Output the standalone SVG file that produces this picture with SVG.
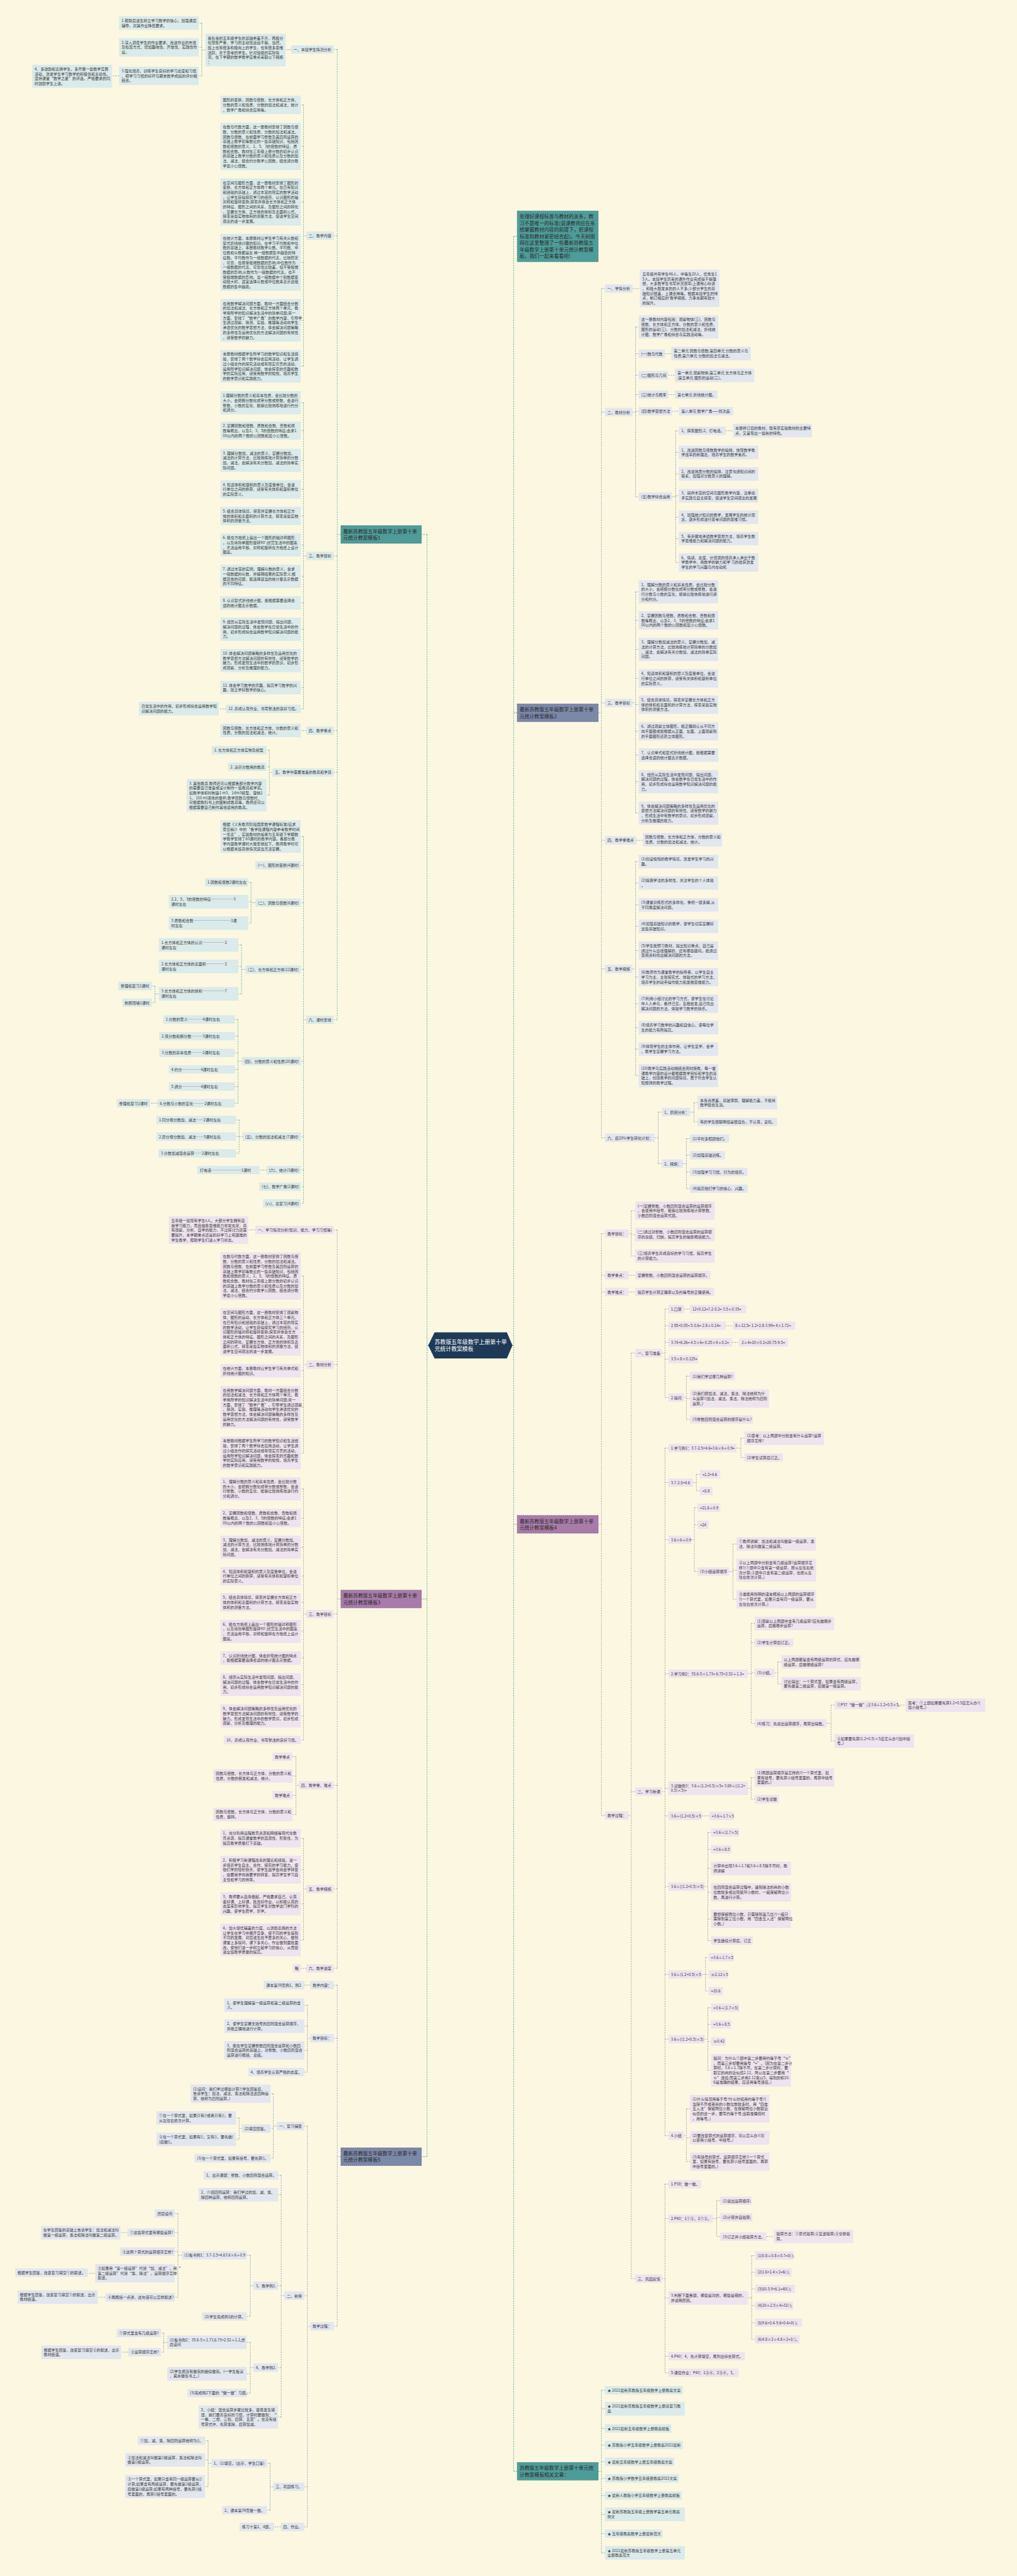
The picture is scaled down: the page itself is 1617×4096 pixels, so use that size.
<svg xmlns="http://www.w3.org/2000/svg" width="1617" height="4096" viewBox="0 0 1617 4096">
<style>
.t{font-family:"Noto Sans CJK SC","Liberation Sans",sans-serif;font-size:9.5px;fill:#3a3a3a}
.tm{font-family:"Noto Sans CJK SC","Liberation Sans",sans-serif;font-size:12.4px;fill:#2a2a2a}
.tc{font-family:"Noto Sans CJK SC","Liberation Sans",sans-serif;font-size:14px;fill:#ffffff}
.lt{fill:#dbeaea}
.ls{fill:#e2e6ef}
.lp{fill:#eee3ef}
.mt{fill:#4e9c99;stroke:#2f7370;stroke-width:1;stroke-dasharray:3 2}
.ms{fill:#7c88a8;stroke:#4b5679;stroke-width:1;stroke-dasharray:3 2}
.mp{fill:#a87ba9;stroke:#7b4f7d;stroke-width:1;stroke-dasharray:3 2}
.c{fill:none;stroke-width:1.2;stroke-dasharray:3.5 2.5}
.ct{stroke:#5fa5a0}.cs{stroke:#8b94ad}.cp{stroke:#a48ea7}.cr{stroke:#3f9a8a}
</style>
<rect width="1617" height="4096" fill="#fbf7e1"/>
<g transform="scale(0.6316)">
<g id="connectors">
<path class="c cr" d="M1078,3387H1075M1075,1345.5V5429.5M1075,1345.5H1061M1075,4025.5H1061M1075,5429.5H1061"/>
<path class="c cr" d="M1290,3387H1293M1293,595V6221.5M1293,595H1302M1293,1794.5H1302M1293,3837.5H1302M1293,6221.5H1302"/>
<path class="c ct" d="M858,1345.5H849M849,124.5V2567.5M849,124.5H840M849,593.5H840M849,1399.5H840M849,1839.5H840M849,1944.5H840M849,2567.5H840"/>
<path class="c ct" d="M733,125H719M517,126H508M508,58V191M508,58H500M508,119H500M508,191H500M300,191H282"/>
<path class="c ct" d="M771,593.5H764M764,264V922M764,264H757M764,368.5H757M764,508.5H757M764,660.5H757M764,806.5H757M764,922H757"/>
<path class="c ct" d="M771,1399.5H764M764,1014V1784.5M764,1014H757M764,1084H757M764,1159H757M764,1232H757M764,1299H757M764,1372H757M764,1451H757M764,1518H757M764,1584H757M764,1663H757M764,1731H757M764,1784.5H757M569,1784.5H551"/>
<path class="c ct" d="M771,1839.5H757M686,1944.5H678M678,1888.5V2002M678,1888.5H671M678,1930.5H671M678,2002H671"/>
<path class="c ct" d="M771,2567.5H764M764,2106V3029.5M764,2106H757M764,2178.5H757M764,2272.5H757M764,2440.5H757M764,2671.5H757M764,2861.5H757M764,2945.5H757M764,2987.5H757M764,3029.5H757"/>
<path class="c ct" d="M643,2272.5H632M632,2221.5V2324M632,2221.5H625M632,2270H625M632,2324H625M618,2440.5H608M608,2379V2502M608,2379H600M608,2433H600M608,2502H600M400,2502H390M390,2482.5V2524.5M390,2482.5H382M390,2524.5H382"/>
<path class="c ct" d="M609,2671.5H599M599,2566.5V2777.5M599,2566.5H591M599,2608.5H591M599,2650.5H591M599,2692.5H591M599,2735.5H591M599,2777.5H591M396,2777.5H378M611,2861.5H602M602,2819.5V2903.5M602,2819.5H594M602,2861.5H594M602,2903.5H594M671,2945.5H653"/>
<path class="c cp" d="M858,4025.5H849M849,3096.5V4955.5M849,3096.5H840M849,3435.5H840M849,4063.5H840M849,4494.5H840M849,4755.5H840M849,4955.5H840M643,3096.5H625"/>
<path class="c cp" d="M771,3435.5H764M764,3212.5V3658M764,3212.5H757M764,3353.5H757M764,3451H757M764,3542.5H757M764,3658H757"/>
<path class="c cp" d="M771,4063.5H764M764,3748V4380.5M764,3748H757M764,3822H757M764,3895H757M764,3968H757M764,4034H757M764,4107H757M764,4174H757M764,4241H757M764,4320H757M764,4380.5H757"/>
<path class="c cp" d="M752,4494.5H745M745,4422.5V4568M745,4422.5H736M745,4471H736M745,4519.5H736M745,4568H736M771,4755.5H764M764,4628V4884M764,4628H757M764,4707H757M764,4793H757M764,4884H757M771,4955.5H757"/>
<path class="c cs" d="M858,5429.5H849M849,4997.5V5856.5M849,4997.5H840M849,5131.5H840M849,5856.5H840M781,4997.5H766M781,5131.5H774M774,5048V5216.5M774,5048H766M774,5101H766M774,5162H766M774,5216.5H766"/>
<path class="c cs" d="M781,5856.5H774M774,5352.5V6361.5M774,5352.5H766M774,5779.5H766M774,6260.5H766M774,6361.5H766M697,5352.5H688M688,5271V5433.5M688,5271H681M688,5358.5H681M688,5433.5H681M609,5358.5H602M602,5332V5386M602,5332H594M602,5386H594"/>
<path class="c cs" d="M716,5779.5H708M708,5476.5V6085M708,5476.5H700M708,5525H700M708,5754.5H700M708,5960.5H700M708,6085H700M638,5754.5H630M630,5677.5V5831.5M630,5677.5H621M630,5831.5H621"/>
<path class="c cs" d="M458,5677.5H448M448,5572.5V5783.5M448,5572.5H440M448,5620.5H440M448,5668.5H440M448,5723H440M448,5783.5H440M321,5620.5H303M240,5723H221M265,5783.5H246"/>
<path class="c cs" d="M638,5960.5H630M630,5897V6024.5M630,5897H621M630,5976H621M630,6024.5H621M421,5897H412M412,5873.5V5921.5M412,5873.5H405M412,5921.5H405M323,5921.5H305"/>
<path class="c cs" d="M688,6260.5H680M680,6201.5V6319.5M680,6201.5H672M680,6319.5H672M532,6201.5H524M524,6144.5V6260M524,6144.5H516M524,6193H516M524,6260H516M707,6361.5H690"/>
<path class="c cs" d="M1506,1794.5H1514M1514,726.5V2864.5M1514,726.5H1523M1514,1037.5H1523M1514,1769.5H1523M1514,2115.5H1523M1514,2439.5H1523M1514,2864.5H1523M1592,726.5H1611"/>
<path class="c cs" d="M1592,1037.5H1600M1600,823V1250.5M1600,823H1608M1600,890.5H1608M1600,944.5H1608M1600,993.5H1608M1600,1035.5H1608M1600,1250.5H1608M1674,890.5H1690M1682,944.5H1699M1682,993.5H1699M1691,1035.5H1709"/>
<path class="c cs" d="M1691,1250.5H1701M1701,1084.5V1416M1701,1084.5H1709M1701,1139H1709M1701,1193H1709M1701,1248H1709M1701,1302H1709M1701,1356H1709M1701,1416H1709M1827,1084.5H1845"/>
<path class="c cs" d="M1592,1769.5H1600M1600,1490V2047M1600,1490H1608M1600,1562H1608M1600,1635H1608M1600,1708H1608M1600,1774H1608M1600,1841H1608M1600,1901H1608M1600,1968H1608M1600,2047H1608M1602,2115.5H1618"/>
<path class="c cs" d="M1592,2439.5H1600M1600,2169V2708M1600,2169H1608M1600,2223H1608M1600,2278H1608M1600,2332H1608M1600,2393H1608M1600,2460H1608M1600,2527H1608M1600,2587H1608M1600,2641H1608M1600,2708H1608"/>
<path class="c cs" d="M1648,2864.5H1657M1657,2799.5V2929.5M1657,2799.5H1666M1657,2929.5H1666M1737,2799.5H1747M1747,2776V2824.5M1747,2776H1756M1747,2824.5H1756M1719,2929.5H1728M1728,2866.5V2992.5M1728,2866.5H1737M1728,2908.5H1737M1728,2950.5H1737M1728,2992.5H1737"/>
<path class="c cp" d="M1506,3837.5H1514M1514,3105.5V4570.5M1514,3105.5H1523M1514,3210.5H1523M1514,3252.5H1523M1514,4570.5H1523M1582,3105.5H1589M1589,3048V3162M1589,3048H1599M1589,3108H1599M1589,3162H1599M1582,3210.5H1599M1582,3252.5H1599"/>
<path class="c cp" d="M1582,4570.5H1589M1589,3406.5V5736.5M1589,3406.5H1599M1589,4510.5H1599M1589,5736.5H1599"/>
<path class="c cp" d="M1666,3406.5H1674M1674,3295.5V3518.5M1674,3295.5H1683M1674,3337.5H1683M1674,3379.5H1683M1674,3421.5H1683M1674,3518.5H1683M1722,3295.5H1737M1827,3337.5H1845M1843,3379.5H1861M1722,3518.5H1728M1728,3464.5V3573.5M1728,3464.5H1737M1728,3521H1737M1728,3573.5H1737"/>
<path class="c cp" d="M1666,4510.5H1674M1674,3645.5V5376.5M1674,3645.5H1683M1674,3732.5H1683M1674,3876.5H1683M1674,4213.5H1683M1674,4502H1683M1674,4571.5H1683M1674,4749.5H1683M1674,4970.5H1683M1674,5133.5H1683M1674,5376.5H1683"/>
<path class="c cp" d="M1854,3645.5H1865M1865,3621V3669.5M1865,3621H1874M1865,3669.5H1874M1744,3732.5H1753M1753,3711.5V3753.5M1753,3711.5H1762M1753,3753.5H1762M1740,3876.5H1748M1748,3795.5V3956.5M1748,3795.5H1756M1748,3838.5H1756M1748,3956.5H1756M1835,3956.5H1845M1845,3887V4026M1845,3887H1854M1845,3953H1854M1845,4026H1854"/>
<path class="c cp" d="M1882,4213.5H1891M1891,4087V4338.5M1891,4087H1900M1891,4135.5H1900M1891,4211.5H1900M1891,4338.5H1900M1950,4211.5H1958M1958,4184V4239M1958,4184H1967M1958,4239H1967M2080,4338.5H2092M2092,4292.5V4383M2092,4292.5H2101M2092,4383H2101"/>
<path class="c cp" d="M2261,4292.5H2280"/>
<path class="c cp" d="M1883,4502H1891M1891,4475V4529.5M1891,4475H1900M1891,4529.5H1900M1767,4571.5H1786M1774,4749.5H1782M1782,4613.5V4885.5M1782,4613.5H1790M1782,4655.5H1790M1782,4704H1790M1782,4764H1790M1782,4831H1790M1782,4885.5H1790"/>
<path class="c cp" d="M1767,4970.5H1776M1776,4927.5V5012.5M1776,4927.5H1784M1776,4970.5H1784M1776,5012.5H1784M1774,5133.5H1782M1782,5054.5V5212M1782,5054.5H1790M1782,5096.5H1790M1782,5139.5H1790M1782,5212H1790M1722,5376.5H1728M1728,5309V5442M1728,5309H1737M1728,5382H1737M1728,5442H1737"/>
<path class="c cp" d="M1666,5736.5H1674M1674,5498.5V5973.5M1674,5498.5H1683M1674,5585.5H1683M1674,5785H1683M1674,5931.5H1683M1674,5973.5H1683M1794,5585.5H1804M1804,5540.5V5630.5M1804,5540.5H1813M1804,5582.5H1813M1804,5630.5H1813M1930,5630.5H1948"/>
<path class="c cp" d="M1883,5785H1892M1892,5678.5V5889.5M1892,5678.5H1901M1892,5720.5H1901M1892,5762.5H1901M1892,5804.5H1901M1892,5847.5H1901M1892,5889.5H1901"/>
<path class="c ct" d="M1506,6221.5H1514M1514,6017.5V6427M1514,6017.5H1523M1514,6064H1523M1514,6113.5H1523M1514,6155.5H1523M1514,6197.5H1523M1514,6239.5H1523M1514,6282.5H1523M1514,6330H1523M1514,6378.5H1523M1514,6427H1523"/>
</g>
<g id="center"><path d="M1094,3354H1276L1290,3387L1276,3420H1094L1078,3387Z" fill="#1e3a56"/><text class="tc" x="1094" y="3383"><tspan x="1094">苏教版五年级数学上册第十单</tspan><tspan x="1094" dy="18">元统计教案模板</tspan></text></g>

<g id="L1"><rect class="mt" x="858" y="1323" width="203" height="45"/><text class="tm" x="864" y="1342"><tspan x="864">最新苏教版五年级数学上册第十单</tspan><tspan x="864" dy="16.5">元统计教案模板1</tspan></text></g>
<g id="A1"><rect class="lt" x="733" y="114" width="107" height="21"/><text class="t" x="739" y="128.2">一、本班学生情况分析</text></g>
<g id="A1a"><rect class="lt" x="517" y="85" width="202" height="82"/><text class="t" x="523" y="99.2"><tspan x="523">我负责的五年级学生的基础参差不齐，两极分</tspan><tspan x="523" dy="12.2">化现象严重，学习的主动性远远不够。当然，</tspan><tspan x="523" dy="12.2">班上也有很多积极向上的学生，也有很多思维</tspan><tspan x="523" dy="12.2">活跃、善于思考的学生。针对班级的实际情</tspan><tspan x="523" dy="12.2">况，在下学期的数学教学应重点采取以下措施</tspan><tspan x="523" dy="12.2">：</tspan></text></g>
<g id="A1a1"><rect class="lt" x="300" y="41" width="200" height="34"/><text class="t" x="306" y="55.2"><tspan x="306">1.帮助后进生树立学习数学的信心，加强课后</tspan><tspan x="306" dy="12.2">辅导，对其作业降低要求。</tspan></text></g>
<g id="A1a2"><rect class="lt" x="300" y="96" width="200" height="46"/><text class="t" x="306" y="110.2"><tspan x="306">2.深入调查学生的作业要求，改进作业的布置</tspan><tspan x="306" dy="12.2">及检查方式，增加趣味性、开放性、实践性作</tspan><tspan x="306" dy="12.2">业。</tspan></text></g>
<g id="A1a3"><rect class="lt" x="300" y="168" width="200" height="46"/><text class="t" x="306" y="182.2"><tspan x="306">3.强化培养、训练学生良好的学习态度和习惯</tspan><tspan x="306" dy="12.2">，把学习习惯的好坏与期末数学成绩的评价相</tspan><tspan x="306" dy="12.2">结合。</tspan></text></g>
<g id="A1a3a"><rect class="lt" x="81" y="163" width="201" height="58"/><text class="t" x="87" y="177.2"><tspan x="87">4、多鼓励和表扬学生，多开展一些数学竞赛</tspan><tspan x="87" dy="12.2">活动，激发学生学习数学的积极性和主动性。</tspan><tspan x="87" dy="12.2">坚持课堂“数学之星”的评选，严格要求的同</tspan><tspan x="87" dy="12.2">时鼓励学生上进。</tspan></text></g>
<g id="A2"><rect class="lt" x="771" y="583" width="69" height="21"/><text class="t" x="777" y="597.2">二、教学内容</text></g>
<g id="A2a"><rect class="lt" x="555" y="241" width="202" height="46"/><text class="t" x="561" y="255.2"><tspan x="561">图形的变换，因数与倍数，长方体和正方体，</tspan><tspan x="561" dy="12.2">分数的意义和性质，分数的加法和减法，统计</tspan><tspan x="561" dy="12.2">，数学广角和综合应用等。</tspan></text></g>
<g id="A2b"><rect class="lt" x="555" y="309" width="202" height="119"/><text class="t" x="561" y="323.2"><tspan x="561">在数与代数方面，这一册教材安排了因数与倍</tspan><tspan x="561" dy="12.2">数、分数的意义和性质，分数的加法和减法。</tspan><tspan x="561" dy="12.2">因数与倍数，在前面学习整数及其四则运算的</tspan><tspan x="561" dy="12.2">基础上教学初等数论的一些基础知识，包括因</tspan><tspan x="561" dy="12.2">数和倍数的意义，2、5、3的倍数的特征，质</tspan><tspan x="561" dy="12.2">数和合数。教材在三年级上册分数的初步认识</tspan><tspan x="561" dy="12.2">的基础上教学分数的意义和性质以及分数的加</tspan><tspan x="561" dy="12.2">法、减法，结合约分教学公因数，结合通分教</tspan><tspan x="561" dy="12.2">学最小公倍数。</tspan></text></g>
<g id="A2c"><rect class="lt" x="555" y="449" width="202" height="119"/><text class="t" x="561" y="463.2"><tspan x="561">在空间与图形方面，这一册教材安排了图形的</tspan><tspan x="561" dy="12.2">变换、长方体和正方体两个单元。在已有知识</tspan><tspan x="561" dy="12.2">和经验的基础上，通过丰富的现实的数学活动</tspan><tspan x="561" dy="12.2">，让学生获得探究学习的经历，认识图形的轴</tspan><tspan x="561" dy="12.2">对称和旋转变换;探索并体会长方体和正方体</tspan><tspan x="561" dy="12.2">的特征、图形之间的关系，及图形之间的转化</tspan><tspan x="561" dy="12.2">，掌握长方体、正方体的体积及表面积公式，</tspan><tspan x="561" dy="12.2">探索某些实物体积的测量方法，促进学生空间</tspan><tspan x="561" dy="12.2">观念的进一步发展。</tspan></text></g>
<g id="A2d"><rect class="lt" x="555" y="589" width="202" height="143"/><text class="t" x="561" y="603.2"><tspan x="561">在统计方面，本册教材让学生学习有关众数和</tspan><tspan x="561" dy="12.2">复式折线统计图的知识。在学习平均数和中位</tspan><tspan x="561" dy="12.2">数的基础上，本册教材教学众数。平均数、中</tspan><tspan x="561" dy="12.2">位数和众数都是反 映一组数据集中趋势的特</tspan><tspan x="561" dy="12.2">征数。平均数作为一组数据的代表，比较稳定</tspan><tspan x="561" dy="12.2">，可靠，但易受极端数据的影响;中位数作为</tspan><tspan x="561" dy="12.2">一组数据的代表，可靠性比较差，但不受极端</tspan><tspan x="561" dy="12.2">数据的影响;众数作为一组数据的代表，也不</tspan><tspan x="561" dy="12.2">受极端数据的影响。当一组数据中个别数据变</tspan><tspan x="561" dy="12.2">动较大时，适宜选择众数或中位数来表示这组</tspan><tspan x="561" dy="12.2">数据的集中趋势。</tspan></text></g>
<g id="A2e"><rect class="lt" x="555" y="753" width="202" height="107"/><text class="t" x="561" y="767.2"><tspan x="561">在用数学解决问题方面，教材一方面结合分数</tspan><tspan x="561" dy="12.2">的加法和减法、长方体和正方体两个单元，教</tspan><tspan x="561" dy="12.2">学用所学的知识解决生活中的简单问题;另一</tspan><tspan x="561" dy="12.2">方面，安排了“数学广角”的教学内容，引导学</tspan><tspan x="561" dy="12.2">生通过观察、猜测、实验、推理等活动向学生</tspan><tspan x="561" dy="12.2">渗透优化的数学思想方法，体会解决问题策略</tspan><tspan x="561" dy="12.2">的多样性及运用优化的方法解决问题的有效性</tspan><tspan x="561" dy="12.2">，感受数学的魅力。</tspan></text></g>
<g id="A2f"><rect class="lt" x="555" y="881" width="202" height="82"/><text class="t" x="561" y="895.2"><tspan x="561">本册教材根据学生所学习的数学知识和生活经</tspan><tspan x="561" dy="12.2">验，安排了两个数学综合应用活动，让学生通</tspan><tspan x="561" dy="12.2">过小组合作的探究活动或有现实背景的活动，</tspan><tspan x="561" dy="12.2">运用所学知识解决问题，体会探索的乐趣和数</tspan><tspan x="561" dy="12.2">学的实际应用，感受用数学的愉悦，培养学生</tspan><tspan x="561" dy="12.2">的数学意识和实践能力。</tspan></text></g>
<g id="A3"><rect class="lt" x="771" y="1389" width="69" height="21"/><text class="t" x="777" y="1403.2">三、教学目标</text></g>
<g id="A3a"><rect class="lt" x="555" y="985" width="202" height="58"/><text class="t" x="561" y="999.2"><tspan x="561">1.理解分数的意义和基本性质，会比较分数的</tspan><tspan x="561" dy="12.2">大小，会把假分数化成带分数或整数，会进行</tspan><tspan x="561" dy="12.2">整数、小数的互化，能够比较熟练地进行约分</tspan><tspan x="561" dy="12.2">和通分。</tspan></text></g>
<g id="A3b"><rect class="lt" x="555" y="1061" width="202" height="46"/><text class="t" x="561" y="1075.2"><tspan x="561">2. 掌握因数和倍数、质数和合数、奇数和偶</tspan><tspan x="561" dy="12.2">数等概念，以及2、3、5的倍数的特征;会求1</tspan><tspan x="561" dy="12.2">00以内的两个数的公因数和最小公倍数。</tspan></text></g>
<g id="A3c"><rect class="lt" x="555" y="1130" width="202" height="58"/><text class="t" x="561" y="1144.2"><tspan x="561">3. 理解分数加、减法的意义，掌握分数加、</tspan><tspan x="561" dy="12.2">减法的计算方法，比较熟练地计算简单的分数</tspan><tspan x="561" dy="12.2">加、减法，会解决有关分数加、减法的简单实</tspan><tspan x="561" dy="12.2">际问题。</tspan></text></g>
<g id="A3d"><rect class="lt" x="555" y="1209" width="202" height="46"/><text class="t" x="561" y="1223.2"><tspan x="561">4. 知道体积和容积的意义及度量单位，会进</tspan><tspan x="561" dy="12.2">行单位之间的换算，感受有关体积和容积单位</tspan><tspan x="561" dy="12.2">的实际意义。</tspan></text></g>
<g id="A3e"><rect class="lt" x="555" y="1276" width="202" height="46"/><text class="t" x="561" y="1290.2"><tspan x="561">5. 结合具体情境，探索并掌握长方体和正方</tspan><tspan x="561" dy="12.2">体的体积和表面积的计算方法，探索某些实物</tspan><tspan x="561" dy="12.2">体积的测量方法。</tspan></text></g>
<g id="A3f"><rect class="lt" x="555" y="1343" width="202" height="58"/><text class="t" x="561" y="1357.2"><tspan x="561">6. 能在方格纸上画出一个图形的轴对称图形</tspan><tspan x="561" dy="12.2">，以及将简单图形旋转90°;欣赏生活中的图案</tspan><tspan x="561" dy="12.2">，灵活运用平移、对称和旋转在方格纸上设计</tspan><tspan x="561" dy="12.2">图案。</tspan></text></g>
<g id="A3g"><rect class="lt" x="555" y="1422" width="202" height="58"/><text class="t" x="561" y="1436.2"><tspan x="561">7. 通过丰富的实例，理解众数的意义，会求</tspan><tspan x="561" dy="12.2">一组数据的众数，并解释结果的实际意义;根</tspan><tspan x="561" dy="12.2">据具体的问题，能选择适当的统计量表示数据</tspan><tspan x="561" dy="12.2">的不同特征。</tspan></text></g>
<g id="A3h"><rect class="lt" x="555" y="1501" width="202" height="34"/><text class="t" x="561" y="1515.2"><tspan x="561">8. 认识复式折线统计图，能根据需要选择合</tspan><tspan x="561" dy="12.2">适的统计图表示数据。</tspan></text></g>
<g id="A3i"><rect class="lt" x="555" y="1555" width="202" height="58"/><text class="t" x="561" y="1569.2"><tspan x="561">9. 经历从实际生活中发现问题、提出问题、</tspan><tspan x="561" dy="12.2">解决问题的过程，体会数学在日常生活中的作</tspan><tspan x="561" dy="12.2">用，初步形成综合运用数学知识解决问题的能</tspan><tspan x="561" dy="12.2">力。</tspan></text></g>
<g id="A3j"><rect class="lt" x="555" y="1634" width="202" height="58"/><text class="t" x="561" y="1648.2"><tspan x="561">10. 体会解决问题策略的多样性及运用优化的</tspan><tspan x="561" dy="12.2">数学思想方法解决问题的有效性，感受数学的</tspan><tspan x="561" dy="12.2">魅力。形成发现生活中的数学的意识，初步形</tspan><tspan x="561" dy="12.2">成观察、分析及推理的能力。</tspan></text></g>
<g id="A3k"><rect class="lt" x="555" y="1714" width="202" height="34"/><text class="t" x="561" y="1728.2"><tspan x="561">11. 体会学习数学的乐趣，提高学习数学的兴</tspan><tspan x="561" dy="12.2">趣，建立学好数学的信心。</tspan></text></g>
<g id="A3l"><rect class="lt" x="569" y="1774" width="188" height="21"/><text class="t" x="575" y="1788.2">12. 养成认真作业、书写整洁的良好习惯。</text></g>
<g id="A3la"><rect class="lt" x="350" y="1767" width="201" height="34"/><text class="t" x="356" y="1781.2"><tspan x="356">日常生活中的作用，初步形成综合运用数学知</tspan><tspan x="356" dy="12.2">识解决问题的能力。</tspan></text></g>
<g id="A4"><rect class="lt" x="771" y="1829" width="69" height="21"/><text class="t" x="777" y="1843.2">四、教学重点</text></g>
<g id="A4a"><rect class="lt" x="555" y="1822" width="202" height="34"/><text class="t" x="561" y="1836.2"><tspan x="561">因数与倍数，长方体和正方体，分数的意义和</tspan><tspan x="561" dy="12.2">性质，分数的加法和减法，统计。</tspan></text></g>
<g id="A5"><rect class="lt" x="686" y="1934" width="154" height="21"/><text class="t" x="692" y="1948.2">五、教学中需要准备的教具和学具</text></g>
<g id="A5a"><rect class="lt" x="533" y="1878" width="138" height="21"/><text class="t" x="539" y="1892.2">1. 长方体和正方体实物及模型</text></g>
<g id="A5b"><rect class="lt" x="574" y="1920" width="97" height="21"/><text class="t" x="580" y="1934.2">2. 演示分数用的教具</text></g>
<g id="A5c"><rect class="lt" x="470" y="1961" width="201" height="82"/><text class="t" x="476" y="1975.2"><tspan x="476">3. 其他教具 教师还可以根据各部分教学内容</tspan><tspan x="476" dy="12.2">的需要自己准备或设计制作一些教具和学具。</tspan><tspan x="476" dy="12.2">如教学体积时制备1 m3、1dm3模型，容纳1</tspan><tspan x="476" dy="12.2"> L、100 ml液体的量杯;教学因数与倍数时，</tspan><tspan x="476" dy="12.2">可根据教科书上的图制成教具等。教师还可以</tspan><tspan x="476" dy="12.2">根据需要自己制作其他适用的教具。</tspan></text></g>
<g id="A6"><rect class="lt" x="771" y="2557" width="69" height="21"/><text class="t" x="777" y="2571.2">六、课时安排</text></g>
<g id="A6a"><rect class="lt" x="555" y="2065" width="202" height="82"/><text class="t" x="561" y="2079.2"><tspan x="561">根据《义务教育阶段国家数学课程标准(征求</tspan><tspan x="561" dy="12.2">意见稿)》中的“各学段课程内容参考教学时间</tspan><tspan x="561" dy="12.2">一览表”，实验教材的编者为五年级下学期数</tspan><tspan x="561" dy="12.2">学教学安排了60课时的教学内容。各部分教</tspan><tspan x="561" dy="12.2">学内容教学课时大致安排如下，教师教学时可</tspan><tspan x="561" dy="12.2">以根据本班具体情况适当灵活掌握。</tspan></text></g>
<g id="A6b"><rect class="lt" x="643" y="2168" width="114" height="21"/><text class="t" x="649" y="2182.2">(一)、图形的变换(4课时)</text></g>
<g id="A6c"><rect class="lt" x="643" y="2262" width="114" height="21"/><text class="t" x="649" y="2276.2">(二)、因数与倍数(6课时)</text></g>
<g id="A6c1"><rect class="lt" x="516" y="2211" width="109" height="21"/><text class="t" x="522" y="2225.2">1.因数和倍数2课时左右</text></g>
<g id="A6c2"><rect class="lt" x="425" y="2253" width="200" height="34"/><text class="t" x="431" y="2267.2"><tspan x="431">2.2、5、3的倍数的特征………………3</tspan><tspan x="431" dy="12.2">课时左右</tspan></text></g>
<g id="A6c3"><rect class="lt" x="425" y="2307" width="200" height="34"/><text class="t" x="431" y="2321.2"><tspan x="431">3.质数和合数…………………………1课</tspan><tspan x="431" dy="12.2">时左右</tspan></text></g>
<g id="A6d"><rect class="lt" x="618" y="2430" width="139" height="21"/><text class="t" x="624" y="2444.2">(三)、长方体和正方体(12课时)</text></g>
<g id="A6d1"><rect class="lt" x="400" y="2362" width="200" height="34"/><text class="t" x="406" y="2376.2"><tspan x="406">1.长方体和正方体的认识………………2</tspan><tspan x="406" dy="12.2">课时左右</tspan></text></g>
<g id="A6d2"><rect class="lt" x="400" y="2416" width="200" height="34"/><text class="t" x="406" y="2430.2"><tspan x="406">2.长方体和正方体的表面积……………2</tspan><tspan x="406" dy="12.2">课时左右</tspan></text></g>
<g id="A6d3"><rect class="lt" x="400" y="2485" width="200" height="34"/><text class="t" x="406" y="2499.2"><tspan x="406">3.长方体和正方体的体积………………7</tspan><tspan x="406" dy="12.2">课时左右</tspan></text></g>
<g id="A6d3a"><rect class="lt" x="298" y="2472" width="84" height="21"/><text class="t" x="304" y="2486.2">整理和复习1课时</text></g>
<g id="A6d3b"><rect class="lt" x="308" y="2514" width="74" height="21"/><text class="t" x="314" y="2528.2">粉刷围墙1课时</text></g>
<g id="A6e"><rect class="lt" x="609" y="2661" width="148" height="21"/><text class="t" x="615" y="2675.2">(四)、分数的意义和性质(20课时)</text></g>
<g id="A6e1"><rect class="lt" x="411" y="2556" width="180" height="21"/><text class="t" x="417" y="2570.2">1.分数的意义…………4课时左右</text></g>
<g id="A6e2"><rect class="lt" x="401" y="2598" width="190" height="21"/><text class="t" x="407" y="2612.2">2.真分数和假分数………3课时左右</text></g>
<g id="A6e3"><rect class="lt" x="401" y="2640" width="190" height="21"/><text class="t" x="407" y="2654.2">3.分数的基本性质………2课时左右</text></g>
<g id="A6e4"><rect class="lt" x="425" y="2682" width="166" height="21"/><text class="t" x="431" y="2696.2">4.约分……………4课时左右</text></g>
<g id="A6e5"><rect class="lt" x="425" y="2725" width="166" height="21"/><text class="t" x="431" y="2739.2">5.通分……………4课时左右</text></g>
<g id="A6e6"><rect class="lt" x="396" y="2767" width="195" height="21"/><text class="t" x="402" y="2781.2">6.分数与小数的互化………2课时左右</text></g>
<g id="A6e6a"><rect class="lt" x="294" y="2767" width="84" height="21"/><text class="t" x="300" y="2781.2">整理和复习1课时</text></g>
<g id="A6f"><rect class="lt" x="611" y="2851" width="146" height="21"/><text class="t" x="617" y="2865.2">(五)、分数的加法和减法 (7课时)</text></g>
<g id="A6f1"><rect class="lt" x="394" y="2809" width="200" height="21"/><text class="t" x="400" y="2823.2">1.同分母分数加、减法……2课时左右</text></g>
<g id="A6f2"><rect class="lt" x="394" y="2851" width="200" height="21"/><text class="t" x="400" y="2865.2">2.异分母分数加、减法……3课时左右</text></g>
<g id="A6f3"><rect class="lt" x="399" y="2893" width="195" height="21"/><text class="t" x="405" y="2907.2">3.分数加减混合运算……2课时左右</text></g>
<g id="A6g"><rect class="lt" x="671" y="2935" width="86" height="21"/><text class="t" x="677" y="2949.2">(六)、统计(3课时)</text></g>
<g id="A6g1"><rect class="lt" x="497" y="2935" width="156" height="21"/><text class="t" x="503" y="2949.2">打电话……………………1课时</text></g>
<g id="A6h"><rect class="lt" x="653" y="2977" width="104" height="21"/><text class="t" x="659" y="2991.2">(七)、数学广角(2课时)</text></g>
<g id="A6i"><rect class="lt" x="662" y="3019" width="95" height="21"/><text class="t" x="668" y="3033.2">(八)、总复习(4课时)</text></g>

<g id="L2"><rect class="mp" x="858" y="4003" width="203" height="45"/><text class="tm" x="864" y="4022"><tspan x="864">最新苏教版五年级数学上册第十单</tspan><tspan x="864" dy="16.5">元统计教案模板3</tspan></text></g>
<g id="B1"><rect class="lp" x="643" y="3086" width="197" height="21"/><text class="t" x="649" y="3100.2">一、学习情况分析(知识、能力、学习习惯等)</text></g>
<g id="B1a"><rect class="lp" x="425" y="3062" width="200" height="70"/><text class="t" x="431" y="3076.2"><tspan x="431">五年级一班现有学生x人。大部分学生拥有自</tspan><tspan x="431" dy="12.2">我学习能力，而且抽象思维能力非常充足，具</tspan><tspan x="431" dy="12.2">有观察、分析、自学的能力，不过探讨力还需</tspan><tspan x="431" dy="12.2">要提升，本学期重点还是抓好学习上有困难的</tspan><tspan x="431" dy="12.2">学生教学，帮助学生们进入学习状态。</tspan></text></g>
<g id="B2"><rect class="lp" x="771" y="3425" width="69" height="21"/><text class="t" x="777" y="3439.2">二、教材分析</text></g>
<g id="B2a"><rect class="lp" x="555" y="3153" width="202" height="119"/><text class="t" x="561" y="3167.2"><tspan x="561">在数与代数方面，这一册教材安排了因数与倍</tspan><tspan x="561" dy="12.2">数、分数的意义和性质，分数的加法和减法。</tspan><tspan x="561" dy="12.2">因数与倍数，在前面学习整数及其四则运算的</tspan><tspan x="561" dy="12.2">基础上教学初等数论的一些基础知识，包括因</tspan><tspan x="561" dy="12.2">数和倍数的意义，2、5、3的倍数的特征，质</tspan><tspan x="561" dy="12.2">数和合数。教材在三年级上册分数的初步认识</tspan><tspan x="561" dy="12.2">的基础上教学分数的意义和性质以及分数的加</tspan><tspan x="561" dy="12.2">法、减法，结合约分教学公因数，结合通分教</tspan><tspan x="561" dy="12.2">学最小公倍数。</tspan></text></g>
<g id="B2b"><rect class="lp" x="555" y="3294" width="202" height="119"/><text class="t" x="561" y="3308.2"><tspan x="561">在空间与图形方面，这一册教材安排了观察物</tspan><tspan x="561" dy="12.2">体、图形的运动、长方体和正方体三个单元。</tspan><tspan x="561" dy="12.2">在已有知识和经验的基础上，通过丰富的现实</tspan><tspan x="561" dy="12.2">的数学活动，让学生获得探究学习的经历，认</tspan><tspan x="561" dy="12.2">识图形的轴对称和旋转变换;探索并体会长方</tspan><tspan x="561" dy="12.2">体和正方体的特征、图形之间的关系，及图形</tspan><tspan x="561" dy="12.2">之间的转化，掌握长方体、正方体的体积及表</tspan><tspan x="561" dy="12.2">面积公式，探索某些实物体积的测量方法，促</tspan><tspan x="561" dy="12.2">进学生空间观念的进一步发展。</tspan></text></g>
<g id="B2c"><rect class="lp" x="555" y="3434" width="202" height="34"/><text class="t" x="561" y="3448.2"><tspan x="561">在统计方面，本册教材让学生学习有关单式和</tspan><tspan x="561" dy="12.2">折线统计图的知识。</tspan></text></g>
<g id="B2d"><rect class="lp" x="555" y="3489" width="202" height="107"/><text class="t" x="561" y="3503.2"><tspan x="561">在用数学解决问题方面，教材一方面结合分数</tspan><tspan x="561" dy="12.2">的加法和减法、长方体和正方体两个单元，教</tspan><tspan x="561" dy="12.2">学用所学的知识解决生活中的简单问题;另一</tspan><tspan x="561" dy="12.2">方面，安排了“数学广角”，引导学生通过观察</tspan><tspan x="561" dy="12.2">、猜测、实验、推理等活动向学生渗透优化的</tspan><tspan x="561" dy="12.2">数学思想方法，体会解决问题策略的多样性及</tspan><tspan x="561" dy="12.2">运用优化的方法解决问题的有效性，感受数学</tspan><tspan x="561" dy="12.2">的魅力。</tspan></text></g>
<g id="B2e"><rect class="lp" x="555" y="3617" width="202" height="82"/><text class="t" x="561" y="3631.2"><tspan x="561">本册教材根据学生所学习的数学知识和生活经</tspan><tspan x="561" dy="12.2">验，安排了两个数学综合应用活动，让学生通</tspan><tspan x="561" dy="12.2">过小组合作的探究活动或有现实背景的活动，</tspan><tspan x="561" dy="12.2">运用所学知识解决问题，体会探索的乐趣和数</tspan><tspan x="561" dy="12.2">学的实际应用，感受用数学的愉悦，培养学生</tspan><tspan x="561" dy="12.2">的数学意识和实践能力。</tspan></text></g>
<g id="B3"><rect class="lp" x="771" y="4053" width="69" height="21"/><text class="t" x="777" y="4067.2">三、教学目标</text></g>
<g id="B3a"><rect class="lp" x="555" y="3719" width="202" height="58"/><text class="t" x="561" y="3733.2"><tspan x="561">1、理解分数的意义和基本性质，会比较分数</tspan><tspan x="561" dy="12.2">的大小，会把假分数化成带分数或整数，会进</tspan><tspan x="561" dy="12.2">行整数、小数的互化，能够比较熟练地进行约</tspan><tspan x="561" dy="12.2">分和通分。</tspan></text></g>
<g id="B3b"><rect class="lp" x="555" y="3799" width="202" height="46"/><text class="t" x="561" y="3813.2"><tspan x="561">2、掌握因数和倍数、质数和合数、奇数和偶</tspan><tspan x="561" dy="12.2">数等概念，以及2、3、5的倍数的特征;会求1</tspan><tspan x="561" dy="12.2">00以内的两个数的公因数和最小公倍数。</tspan></text></g>
<g id="B3c"><rect class="lp" x="555" y="3866" width="202" height="58"/><text class="t" x="561" y="3880.2"><tspan x="561">3、理解分数加、减法的意义，掌握分数加、</tspan><tspan x="561" dy="12.2">减法的计算方法，比较熟练地计算简单的分数</tspan><tspan x="561" dy="12.2">加、减法，会解决有关分数加、减法的简单实</tspan><tspan x="561" dy="12.2">际问题。</tspan></text></g>
<g id="B3d"><rect class="lp" x="555" y="3945" width="202" height="46"/><text class="t" x="561" y="3959.2"><tspan x="561">4、知道体积和容积的意义及度量单位，会进</tspan><tspan x="561" dy="12.2">行单位之间的换算，感受有关体积和容积单位</tspan><tspan x="561" dy="12.2">的实际意义。</tspan></text></g>
<g id="B3e"><rect class="lp" x="555" y="4011" width="202" height="46"/><text class="t" x="561" y="4025.2"><tspan x="561">5、结合具体情境，探索并掌握长方体和正方</tspan><tspan x="561" dy="12.2">体的体积和表面积的计算方法，探索某些实物</tspan><tspan x="561" dy="12.2">体积的测量方法。</tspan></text></g>
<g id="B3f"><rect class="lp" x="555" y="4078" width="202" height="58"/><text class="t" x="561" y="4092.2"><tspan x="561">6、能在方格纸上画出一个图形的轴对称图形</tspan><tspan x="561" dy="12.2">，以及将简单图形旋转90°;欣赏生活中的图案</tspan><tspan x="561" dy="12.2">，灵活运用平移、对称和旋转在方格纸上设计</tspan><tspan x="561" dy="12.2">图案。</tspan></text></g>
<g id="B3g"><rect class="lp" x="555" y="4157" width="202" height="34"/><text class="t" x="561" y="4171.2"><tspan x="561">7、认识折线统计图，体会折现统计图的特点</tspan><tspan x="561" dy="12.2">，能根据需要选择合适的统计图表示数据。</tspan></text></g>
<g id="B3h"><rect class="lp" x="555" y="4212" width="202" height="58"/><text class="t" x="561" y="4226.2"><tspan x="561">8、经历从实际生活中发现问题、提出问题、</tspan><tspan x="561" dy="12.2">解决问题的过程，体会数学在日常生活中的作</tspan><tspan x="561" dy="12.2">用，初步形成综合运用数学知识解决问题的能</tspan><tspan x="561" dy="12.2">力。</tspan></text></g>
<g id="B3i"><rect class="lp" x="555" y="4291" width="202" height="58"/><text class="t" x="561" y="4305.2"><tspan x="561">9、体会解决问题策略的多样性及运用优化的</tspan><tspan x="561" dy="12.2">数学思想方法解决问题的有效性，感受数学的</tspan><tspan x="561" dy="12.2">魅力。形成发现生活中的数学意识，初步形成</tspan><tspan x="561" dy="12.2">观察、分析及推理的能力。</tspan></text></g>
<g id="B3j"><rect class="lp" x="564" y="4370" width="193" height="21"/><text class="t" x="570" y="4384.2">10、养成认真作业、书写整洁的良好习惯。</text></g>
<g id="B4"><rect class="lp" x="752" y="4484" width="88" height="21"/><text class="t" x="758" y="4498.2">四、教学重、难点</text></g>
<g id="B4a"><rect class="lp" x="686" y="4412" width="50" height="21"/><text class="t" x="692" y="4426.2">教学重点</text></g>
<g id="B4b"><rect class="lp" x="537" y="4454" width="199" height="34"/><text class="t" x="543" y="4468.2"><tspan x="543">因数与倍数，长方体与正方体，分数的意义和</tspan><tspan x="543" dy="12.2">性质，分数的假发和减法，统计。</tspan></text></g>
<g id="B4c"><rect class="lp" x="686" y="4509" width="50" height="21"/><text class="t" x="692" y="4523.2">教学难点</text></g>
<g id="B4d"><rect class="lp" x="537" y="4551" width="199" height="34"/><text class="t" x="543" y="4565.2"><tspan x="543">因数与倍数，长方体与正方体，分数的意义和</tspan><tspan x="543" dy="12.2">性质，旋转。</tspan></text></g>
<g id="B5"><rect class="lp" x="771" y="4745" width="69" height="21"/><text class="t" x="777" y="4759.2">五、教学措施</text></g>
<g id="B5a"><rect class="lp" x="555" y="4605" width="202" height="46"/><text class="t" x="561" y="4619.2"><tspan x="561">1、充分利用远程教育资源和网络等现代化教</tspan><tspan x="561" dy="12.2">育资源，提高课堂教学的直观性、形象性，为</tspan><tspan x="561" dy="12.2">提高教学质量打下基础。</tspan></text></g>
<g id="B5b"><rect class="lp" x="555" y="4672" width="202" height="70"/><text class="t" x="561" y="4686.2"><tspan x="561">2、积极学习新课程改革的理论和经验，进一</tspan><tspan x="561" dy="12.2">步培养学生自主、合作、探究的学习能力，使</tspan><tspan x="561" dy="12.2">他们学的轻松快乐，使学生由学会向会学转变</tspan><tspan x="561" dy="12.2">，由要我学向我要学的转变，提高学生学习自</tspan><tspan x="561" dy="12.2">主性和学习的效率。</tspan></text></g>
<g id="B5c"><rect class="lp" x="555" y="4764" width="202" height="58"/><text class="t" x="561" y="4778.2"><tspan x="561">3、教师要从自身做起，严格要求自己，认真</tspan><tspan x="561" dy="12.2">备好课、上好课，批改好作业，以积极认真的</tspan><tspan x="561" dy="12.2">态度来影响学生，提高学生对数学这门学科的</tspan><tspan x="561" dy="12.2">兴趣，使学生愿学、乐学。</tspan></text></g>
<g id="B5d"><rect class="lp" x="555" y="4843" width="202" height="82"/><text class="t" x="561" y="4857.2"><tspan x="561">4、加大培优辅差的力度，以激励表扬的方法</tspan><tspan x="561" dy="12.2">让学生在学习中展开竞争，使不同的学生得到</tspan><tspan x="561" dy="12.2">不同的发展，对后进生给予更多的关心，做到</tspan><tspan x="561" dy="12.2">课堂上多提问，课下多关心，作业做到面批面</tspan><tspan x="561" dy="12.2">改。使他们进一步树立起学习的信心，从而促</tspan><tspan x="561" dy="12.2">进全班教学质量的提高。</tspan></text></g>
<g id="B6"><rect class="lp" x="771" y="4945" width="69" height="21"/><text class="t" x="777" y="4959.2">六、教学进度</text></g>
<g id="B6a"><rect class="lp" x="737" y="4945" width="20" height="21"/><text class="t" x="742" y="4959.2">略</text></g>

<g id="L3"><rect class="ms" x="858" y="5407" width="203" height="45"/><text class="tm" x="864" y="5426"><tspan x="864">最新苏教版五年级数学上册第十单</tspan><tspan x="864" dy="16.5">元统计教案模板5</tspan></text></g>
<g id="C1"><rect class="ls" x="781" y="4987" width="59" height="21"/><text class="t" x="787" y="5001.2">教学内容：</text></g>
<g id="C1a"><rect class="ls" x="664" y="4987" width="102" height="21"/><text class="t" x="670" y="5001.2">课本第39页例1、例2.</text></g>
<g id="C2"><rect class="ls" x="781" y="5121" width="59" height="21"/><text class="t" x="787" y="5135.2">教学目标：</text></g>
<g id="C2a"><rect class="ls" x="565" y="5031" width="201" height="34"/><text class="t" x="571" y="5045.2"><tspan x="571">1、使学生理解第一级运算和第二级运算的含</tspan><tspan x="571" dy="12.2">义。</tspan></text></g>
<g id="C2b"><rect class="ls" x="565" y="5084" width="201" height="34"/><text class="t" x="571" y="5098.2"><tspan x="571">2、使学生掌握无括号的四则混合运算顺序，</tspan><tspan x="571" dy="12.2">并能正确地进行计算。</tspan></text></g>
<g id="C2c"><rect class="ls" x="565" y="5139" width="201" height="46"/><text class="t" x="571" y="5153.2"><tspan x="571">3、能在学生掌握整数四则混合运算和小数四</tspan><tspan x="571" dy="12.2">则混合运算的基础上，对整数、小数四则混合</tspan><tspan x="571" dy="12.2">运算进行概括、总结。</tspan></text></g>
<g id="C2d"><rect class="ls" x="625" y="5206" width="141" height="21"/><text class="t" x="631" y="5220.2">4、培养学生认真严格的态度。</text></g>
<g id="C3"><rect class="ls" x="781" y="5846" width="59" height="21"/><text class="t" x="787" y="5860.2">教学过程：</text></g>
<g id="D1"><rect class="ls" x="697" y="5342" width="69" height="21"/><text class="t" x="703" y="5356.2">一、复习铺垫</text></g>
<g id="D1a"><rect class="ls" x="480" y="5248" width="201" height="46"/><text class="t" x="486" y="5262.2"><tspan x="486">(1)设问：我们学过哪些计算?(学生回答后，</tspan><tspan x="486" dy="12.2">告诉学生：加法、减法、乘法和除法这四种运</tspan><tspan x="486" dy="12.2">算，统称为四则运算。)</tspan></text></g>
<g id="D1b"><rect class="ls" x="609" y="5348" width="72" height="21"/><text class="t" x="615" y="5362.2">(2)填空回答。</text></g>
<g id="D1b1"><rect class="ls" x="394" y="5315" width="200" height="34"/><text class="t" x="400" y="5329.2"><tspan x="400">①在一个算式里，如果只有()或者只有()，要</tspan><tspan x="400" dy="12.2">从左往右依次计算。</tspan></text></g>
<g id="D1b2"><rect class="ls" x="394" y="5369" width="200" height="34"/><text class="t" x="400" y="5383.2"><tspan x="400">②在一个算式里，如果有()，又有()，要先做(</tspan><tspan x="400" dy="12.2">)后做()。</tspan></text></g>
<g id="D1c"><rect class="ls" x="490" y="5423" width="191" height="21"/><text class="t" x="496" y="5437.2">(3)在一个算式里，如果有括号，要先算()。</text></g>
<g id="D2"><rect class="ls" x="716" y="5769" width="50" height="21"/><text class="t" x="722" y="5783.2">二、新授</text></g>
<g id="E1"><rect class="ls" x="513" y="5466" width="187" height="21"/><text class="t" x="519" y="5480.2">1、出示课题：整数、小数四则混合运算。</text></g>
<g id="E2"><rect class="ls" x="500" y="5508" width="200" height="34"/><text class="t" x="506" y="5522.2"><tspan x="506">2、介绍四则运算：我们学过的加、减、乘、</tspan><tspan x="506" dy="12.2">除四种运算，统称四则运算。</tspan></text></g>
<g id="E3"><rect class="ls" x="638" y="5744" width="62" height="21"/><text class="t" x="644" y="5758.2">3、教学例1.</text></g>
<g id="F1"><rect class="ls" x="458" y="5667" width="163" height="21"/><text class="t" x="464" y="5681.2">(1)板书例1：3.7-2.5+4.63.6×6÷0.9</text></g>
<g id="F1o"><rect class="ls" x="390" y="5562" width="50" height="21"/><text class="t" x="396" y="5576.2">然后设问</text></g>
<g id="F1a"><rect class="ls" x="321" y="5610" width="119" height="21"/><text class="t" x="327" y="5624.2">①这些算式里有哪些运算?</text></g>
<g id="F1a1"><rect class="ls" x="103" y="5604" width="200" height="34"/><text class="t" x="109" y="5618.2"><tspan x="109">在学生回答的基础上告诉学生：加法和减法叫</tspan><tspan x="109" dy="12.2">做第一级运算，乘法和除法叫做第二级运算。</tspan></text></g>
<g id="F1b"><rect class="ls" x="302" y="5658" width="138" height="21"/><text class="t" x="308" y="5672.2">②这两个算式的运算顺序怎样?</text></g>
<g id="F1c"><rect class="ls" x="240" y="5700" width="200" height="46"/><text class="t" x="246" y="5714.2"><tspan x="246">③如果用“第一级运算”代替“加、减法”，用“</tspan><tspan x="246" dy="12.2">第二级运算”代替“乘、除法”，运算顺序怎样</tspan><tspan x="246" dy="12.2">叙述。</tspan></text></g>
<g id="F1c1"><rect class="ls" x="38" y="5711" width="183" height="21"/><text class="t" x="44" y="5725.2">根据学生回答，改变复习填空①的叙述。</text></g>
<g id="F1d"><rect class="ls" x="265" y="5773" width="175" height="21"/><text class="t" x="271" y="5787.2">④再概括一点讲，这句话可以怎样叙述?</text></g>
<g id="F1d1"><rect class="ls" x="44" y="5766" width="202" height="34"/><text class="t" x="50" y="5780.2"><tspan x="50">根据学生回答，改变复习填空①的叙述，出示</tspan><tspan x="50" dy="12.2">教材结语。</tspan></text></g>
<g id="F2"><rect class="ls" x="509" y="5821" width="112" height="21"/><text class="t" x="515" y="5835.2">(2)学生完成例1的计算。</text></g>
<g id="E4"><rect class="ls" x="638" y="5950" width="62" height="21"/><text class="t" x="644" y="5964.2">4、教学例2.</text></g>
<g id="G1"><rect class="ls" x="421" y="5880" width="200" height="34"/><text class="t" x="427" y="5894.2"><tspan x="427">(1)板书例2：35.6-5×1.73,6.75+2.52÷1.2,然</tspan><tspan x="427" dy="12.2">后设问</tspan></text></g>
<g id="G1a"><rect class="ls" x="294" y="5863" width="111" height="21"/><text class="t" x="300" y="5877.2">①算式里含有几级运算?</text></g>
<g id="G1b"><rect class="ls" x="323" y="5911" width="82" height="21"/><text class="t" x="329" y="5925.2">②运算顺序怎样?</text></g>
<g id="G1b1"><rect class="ls" x="104" y="5905" width="201" height="34"/><text class="t" x="110" y="5919.2"><tspan x="110">根据学生回答，改变复习填空②的叙述，出示</tspan><tspan x="110" dy="12.2">教材结语。</tspan></text></g>
<g id="G2"><rect class="ls" x="421" y="5959" width="200" height="34"/><text class="t" x="427" y="5973.2"><tspan x="427">(2)学生把没有做完的继续做完。(一学生板演</tspan><tspan x="427" dy="12.2">，其余做在书上。)</tspan></text></g>
<g id="G3"><rect class="ls" x="472" y="6014" width="149" height="21"/><text class="t" x="478" y="6028.2">(3)完成例2下面的“做一做”习题。</text></g>
<g id="E5"><rect class="ls" x="500" y="6056" width="200" height="58"/><text class="t" x="506" y="6070.2"><tspan x="506">5、小结：混合运算步骤比较多，容易发生错</tspan><tspan x="506" dy="12.2">误，我们要养良好的习惯，计算时要做到：“</tspan><tspan x="506" dy="12.2">一看、二想、三划、四算、五查”。在没有括</tspan><tspan x="506" dy="12.2">号算式中，先算乘除，后算加减。</tspan></text></g>
<g id="D3"><rect class="ls" x="688" y="6250" width="78" height="21"/><text class="t" x="694" y="6264.2">三、巩固练习。</text></g>
<g id="H1"><rect class="ls" x="532" y="6191" width="140" height="21"/><text class="t" x="538" y="6205.2">1、(1)填空。(出示，学生口答)</text></g>
<g id="H1a"><rect class="ls" x="347" y="6134" width="169" height="21"/><text class="t" x="353" y="6148.2">①加、减、乘、除四则运算统称为()。</text></g>
<g id="H1b"><rect class="ls" x="315" y="6176" width="201" height="34"/><text class="t" x="321" y="6190.2"><tspan x="321">②加法和减法叫做第()级运算，乘法和除法叫</tspan><tspan x="321" dy="12.2">做第()级运算。</tspan></text></g>
<g id="H1c"><rect class="ls" x="315" y="6231" width="201" height="58"/><text class="t" x="321" y="6245.2"><tspan x="321">③一个算式里，如果只含有同一级运算要从()</tspan><tspan x="321" dy="12.2">计算;如果含有两级运算，要先做第()级运算，</tspan><tspan x="321" dy="12.2">后做第()级运算;如果有两种括号，要先算()括</tspan><tspan x="321" dy="12.2">号里面的，再算()括号里面的。</tspan></text></g>
<g id="H2"><rect class="ls" x="559" y="6309" width="113" height="21"/><text class="t" x="565" y="6323.2">2、课本第39页做一做。</text></g>
<g id="D4"><rect class="ls" x="707" y="6351" width="59" height="21"/><text class="t" x="713" y="6365.2">四、作业。</text></g>
<g id="D4a"><rect class="ls" x="603" y="6351" width="87" height="21"/><text class="t" x="609" y="6365.2">练习十第1、4题。</text></g>

<g id="R0"><rect class="mt" x="1302" y="531" width="204" height="128"/><text class="tm" x="1308" y="550"><tspan x="1308">处理好课程标准与教材的关系，教</tspan><tspan x="1308" dy="16.6">习不是唯一的标准(说课教师应在系</tspan><tspan x="1308" dy="16.6">统掌握教材内容的前提下，把课程</tspan><tspan x="1308" dy="16.6">标准和教材紧密结合起)，今天树图</tspan><tspan x="1308" dy="16.6">网在这里整理了一些最新苏教版五</tspan><tspan x="1308" dy="16.6">年级数学上册第十单元统计教案模</tspan><tspan x="1308" dy="16.6">板，我们一起来看看吧!</tspan></text></g>

<g id="R1"><rect class="ms" x="1302" y="1772" width="204" height="45"/><text class="tm" x="1308" y="1791"><tspan x="1308">最新苏教版五年级数学上册第十单</tspan><tspan x="1308" dy="16.5">元统计教案模板2</tspan></text></g>
<g id="P1"><rect class="ls" x="1523" y="716" width="69" height="21"/><text class="t" x="1529" y="730.2">一、学情分析</text></g>
<g id="P1a"><rect class="ls" x="1611" y="679" width="200" height="94"/><text class="t" x="1617" y="693.2"><tspan x="1617">五年级共有学生46人，中等生20人，优秀生1</tspan><tspan x="1617" dy="12.2">5人。本班学生历来的课外作业完成得不够理</tspan><tspan x="1617" dy="12.2">想，大多数学生书写状况潦草;上课用心听讲</tspan><tspan x="1617" dy="12.2">、积极大胆发言的的人不多;少部分学生的基</tspan><tspan x="1617" dy="12.2">础知识很差，上课走神等。根据本班学生的特</tspan><tspan x="1617" dy="12.2">点，制订相应的'教学措施，力争本期有较大</tspan><tspan x="1617" dy="12.2">的提升。</tspan></text></g>
<g id="P2"><rect class="ls" x="1523" y="1027" width="69" height="21"/><text class="t" x="1529" y="1041.2">二、教材分析</text></g>
<g id="P2a"><rect class="ls" x="1608" y="794" width="200" height="58"/><text class="t" x="1614" y="808.2"><tspan x="1614">这一册教材内容包括：观察物体(三)、因数与</tspan><tspan x="1614" dy="12.2">倍数、长方体和正方体、分数的意义和性质、</tspan><tspan x="1614" dy="12.2">图形的运动(三)、分数的加法和减法、折线统</tspan><tspan x="1614" dy="12.2">计图、数学广角和综合与实践活动等。</tspan></text></g>
<g id="P2b"><rect class="ls" x="1608" y="880" width="66" height="21"/><text class="t" x="1614" y="894.2">(一)数与代数</text></g>
<g id="P2b1"><rect class="ls" x="1690" y="873" width="200" height="34"/><text class="t" x="1696" y="887.2"><tspan x="1696">第二单元 因数与倍数;第四单元 分数的意义与</tspan><tspan x="1696" dy="12.2">性质;第六单元 分数的加法与减法。</tspan></text></g>
<g id="P2c"><rect class="ls" x="1608" y="934" width="74" height="21"/><text class="t" x="1614" y="948.2">(二)图形与几何</text></g>
<g id="P2c1"><rect class="ls" x="1699" y="928" width="200" height="34"/><text class="t" x="1705" y="942.2"><tspan x="1705">第一单元 观察物体;第三单元 长方体与正方体</tspan><tspan x="1705" dy="12.2">;第五单元 图形的运动(三)。</tspan></text></g>
<g id="P2d"><rect class="ls" x="1608" y="983" width="74" height="21"/><text class="t" x="1614" y="997.2">(三)统计与概率</text></g>
<g id="P2d1"><rect class="ls" x="1699" y="983" width="107" height="21"/><text class="t" x="1705" y="997.2">第七单元 折线统计图。</text></g>
<g id="P2e"><rect class="ls" x="1608" y="1025" width="83" height="21"/><text class="t" x="1614" y="1039.2">(四)数学思想方法</text></g>
<g id="P2e1"><rect class="ls" x="1709" y="1025" width="137" height="21"/><text class="t" x="1715" y="1039.2">第八单元 数学广角——找次品</text></g>
<g id="P2f"><rect class="ls" x="1608" y="1240" width="83" height="21"/><text class="t" x="1614" y="1254.2">(五)数学综合运用</text></g>
<g id="P2f1"><rect class="ls" x="1709" y="1074" width="118" height="21"/><text class="t" x="1715" y="1088.2">1、探索图形;2、打电话。</text></g>
<g id="P2f1a"><rect class="ls" x="1845" y="1067" width="199" height="34"/><text class="t" x="1851" y="1081.2"><tspan x="1851">本册修订后的教材，既有原实验教材的主要特</tspan><tspan x="1851" dy="12.2">点，又呈现出一些新的特色。</tspan></text></g>
<g id="P2f2"><rect class="ls" x="1709" y="1122" width="200" height="34"/><text class="t" x="1715" y="1136.2"><tspan x="1715">1、改进因数与倍数教学的编排，体现数学教</tspan><tspan x="1715" dy="12.2">学改革的新理念，培养学生的数学素养。</tspan></text></g>
<g id="P2f3"><rect class="ls" x="1709" y="1176" width="200" height="34"/><text class="t" x="1715" y="1190.2"><tspan x="1715">2、改进熟悉分数的编排，注意沟通知识间的</tspan><tspan x="1715" dy="12.2">联系，加强对分数意义的理解。</tspan></text></g>
<g id="P2f4"><rect class="ls" x="1709" y="1231" width="200" height="34"/><text class="t" x="1715" y="1245.2"><tspan x="1715">3、提供丰富的空间与图形教学内容，注重动</tspan><tspan x="1715" dy="12.2">手实践与自主探索，促进学生空间观念的发展</tspan></text></g>
<g id="P2f5"><rect class="ls" x="1709" y="1285" width="200" height="34"/><text class="t" x="1715" y="1299.2"><tspan x="1715">4、加强统计知识的教学，发展学生的统计观</tspan><tspan x="1715" dy="12.2">念，逐步形成进行思考问题的思维习惯。</tspan></text></g>
<g id="P2f6"><rect class="ls" x="1709" y="1339" width="200" height="34"/><text class="t" x="1715" y="1353.2"><tspan x="1715">5、有步骤地渗透数学思想方法，培养学生数</tspan><tspan x="1715" dy="12.2">学思维能力和解决问题的能力。</tspan></text></g>
<g id="P2f7"><rect class="ls" x="1709" y="1393" width="200" height="46"/><text class="t" x="1715" y="1407.2"><tspan x="1715">6、情感、态度、价值观的培养渗入渗出于数</tspan><tspan x="1715" dy="12.2">学教学中，用数学的魅力和学 习的收获激发</tspan><tspan x="1715" dy="12.2">学生的学习兴趣与内在动机</tspan></text></g>
<g id="P3"><rect class="ls" x="1523" y="1759" width="69" height="21"/><text class="t" x="1529" y="1773.2">三、教学目标</text></g>
<g id="P3a"><rect class="ls" x="1608" y="1461" width="200" height="58"/><text class="t" x="1614" y="1475.2"><tspan x="1614">1、理解分数的意义和基本性质，会比较分数</tspan><tspan x="1614" dy="12.2">的大小，会把假分数化成带分数或整数，会进</tspan><tspan x="1614" dy="12.2">行分数与小数的互化，能够比较熟练地进行通</tspan><tspan x="1614" dy="12.2">分和约分。</tspan></text></g>
<g id="P3b"><rect class="ls" x="1608" y="1539" width="200" height="46"/><text class="t" x="1614" y="1553.2"><tspan x="1614">2、掌握因数与倍数、质数和合数、奇数和偶</tspan><tspan x="1614" dy="12.2">数等概念，以及2、3、5的倍数的特征;会求1</tspan><tspan x="1614" dy="12.2">00以内的两个数的公因数和最小公倍数。</tspan></text></g>
<g id="P3c"><rect class="ls" x="1608" y="1606" width="200" height="58"/><text class="t" x="1614" y="1620.2"><tspan x="1614">3、理解分数加减法的意义，掌握分数加、减</tspan><tspan x="1614" dy="12.2">法的计算方法，比较熟练地计算简单的分数加</tspan><tspan x="1614" dy="12.2">、减法，会解决有关分数加、减法的简单实际</tspan><tspan x="1614" dy="12.2">问题。</tspan></text></g>
<g id="P3d"><rect class="ls" x="1608" y="1685" width="200" height="46"/><text class="t" x="1614" y="1699.2"><tspan x="1614">4、知道体积和容积的意义及度量单位，会进</tspan><tspan x="1614" dy="12.2">行单位之间的换算，感受有关体积和容积单位</tspan><tspan x="1614" dy="12.2">的实际意义。</tspan></text></g>
<g id="P3e"><rect class="ls" x="1608" y="1751" width="200" height="46"/><text class="t" x="1614" y="1765.2"><tspan x="1614">5、结合具体情境，探索并掌握长方体和正方</tspan><tspan x="1614" dy="12.2">体的体积和表面积的计算方法，探索某些实物</tspan><tspan x="1614" dy="12.2">体积的测量方法。</tspan></text></g>
<g id="P3f"><rect class="ls" x="1608" y="1818" width="200" height="46"/><text class="t" x="1614" y="1832.2"><tspan x="1614">6、通过观察立体图形，能正确辨认从不同方</tspan><tspan x="1614" dy="12.2">向平面图或能根据从正面、左面、上面观察到</tspan><tspan x="1614" dy="12.2">的平面图形还原立体图形。</tspan></text></g>
<g id="P3g"><rect class="ls" x="1608" y="1884" width="200" height="34"/><text class="t" x="1614" y="1898.2"><tspan x="1614">7、认识单式和复式折线统计图，能根据需要</tspan><tspan x="1614" dy="12.2">选择合适的统计图表示数据。</tspan></text></g>
<g id="P3h"><rect class="ls" x="1608" y="1939" width="200" height="58"/><text class="t" x="1614" y="1953.2"><tspan x="1614">8、经历从实际生活中发现问题、提出问题、</tspan><tspan x="1614" dy="12.2">解决问题的过程，体会数学在日常生活中的作</tspan><tspan x="1614" dy="12.2">用，初步形成综合运用数学知识解决问题的能</tspan><tspan x="1614" dy="12.2">力。</tspan></text></g>
<g id="P3i"><rect class="ls" x="1608" y="2018" width="200" height="58"/><text class="t" x="1614" y="2032.2"><tspan x="1614">9、体会解决问题策略的多样性及运用优化的</tspan><tspan x="1614" dy="12.2">思想方法解决问题的有效性，感受数学的魅力</tspan><tspan x="1614" dy="12.2">，形成生活中有数学的意识，初步形成观察、</tspan><tspan x="1614" dy="12.2">分析及推理的能力。</tspan></text></g>
<g id="P4"><rect class="ls" x="1523" y="2105" width="79" height="21"/><text class="t" x="1529" y="2119.2">四、教学重难点</text></g>
<g id="P4a"><rect class="ls" x="1618" y="2097" width="200" height="34"/><text class="t" x="1624" y="2111.2"><tspan x="1624">因数与倍数，长方体和正方体，分数的意义和</tspan><tspan x="1624" dy="12.2">性质，分数的加法和减法，统计。</tspan></text></g>
<g id="P5"><rect class="ls" x="1523" y="2429" width="69" height="21"/><text class="t" x="1529" y="2443.2">五、教学措施</text></g>
<g id="P5a"><rect class="ls" x="1608" y="2152" width="200" height="34"/><text class="t" x="1614" y="2166.2"><tspan x="1614">(1)创设愉悦的教学情境，激发学生学习的兴</tspan><tspan x="1614" dy="12.2">趣。</tspan></text></g>
<g id="P5b"><rect class="ls" x="1608" y="2206" width="200" height="34"/><text class="t" x="1614" y="2220.2"><tspan x="1614">(2)提倡学法的多样性，关注学生的个人体验</tspan><tspan x="1614" dy="12.2">。</tspan></text></g>
<g id="P5c"><rect class="ls" x="1608" y="2261" width="200" height="34"/><text class="t" x="1614" y="2275.2"><tspan x="1614">(3)课堂训练形式的多样化，重视一题多解,从</tspan><tspan x="1614" dy="12.2">不同角度解决问题。</tspan></text></g>
<g id="P5d"><rect class="ls" x="1608" y="2315" width="200" height="34"/><text class="t" x="1614" y="2329.2"><tspan x="1614">(4)加强基础知识的教学，使学生切实掌握好</tspan><tspan x="1614" dy="12.2">这些基础知识。</tspan></text></g>
<g id="P5e"><rect class="ls" x="1608" y="2370" width="200" height="46"/><text class="t" x="1614" y="2384.2"><tspan x="1614">(5)学生能预习教材，提出知识重点，自己是</tspan><tspan x="1614" dy="12.2">通过什么途径理解的，还有哪些疑问。能通过</tspan><tspan x="1614" dy="12.2">查阅资料找出解决问题的方法。</tspan></text></g>
<g id="P5f"><rect class="ls" x="1608" y="2437" width="200" height="46"/><text class="t" x="1614" y="2451.2"><tspan x="1614">(6)教师作为课堂教学的指导者，以学生自主</tspan><tspan x="1614" dy="12.2">学习为主，主张探究式、体验式的学习方法，</tspan><tspan x="1614" dy="12.2">培养学生的动手操作能力和发散思维能力。</tspan></text></g>
<g id="P5g"><rect class="ls" x="1608" y="2504" width="200" height="46"/><text class="t" x="1614" y="2518.2"><tspan x="1614">(7)利用小组讨论的学习方式，使学生在讨论</tspan><tspan x="1614" dy="12.2">中人人参与，各抒己见，互相启发,自己找出</tspan><tspan x="1614" dy="12.2">解决问题的方法，体验学习数学的快乐。</tspan></text></g>
<g id="P5h"><rect class="ls" x="1608" y="2570" width="200" height="34"/><text class="t" x="1614" y="2584.2"><tspan x="1614">(8)培养学习数学的兴趣和自信心，使每位学</tspan><tspan x="1614" dy="12.2">生的能力有所提高。</tspan></text></g>
<g id="P5i"><rect class="ls" x="1608" y="2624" width="200" height="34"/><text class="t" x="1614" y="2638.2"><tspan x="1614">(9)体现学生的主体作用，让学生爱学、会学</tspan><tspan x="1614" dy="12.2">，教学生掌握学习方法。</tspan></text></g>
<g id="P5j"><rect class="ls" x="1608" y="2679" width="200" height="58"/><text class="t" x="1614" y="2693.2"><tspan x="1614">(10)教学与实践活动相结合因材施教，每一堂</tspan><tspan x="1614" dy="12.2">课教学内容的设计都根据教学目标和学生的基</tspan><tspan x="1614" dy="12.2">础上，创建教学的问题情境，属于符合学生认</tspan><tspan x="1614" dy="12.2">知规律的教学过程。</tspan></text></g>
<g id="P6"><rect class="ls" x="1523" y="2854" width="125" height="21"/><text class="t" x="1529" y="2868.2">六、后20%学生转化计划：</text></g>
<g id="P6a"><rect class="ls" x="1666" y="2789" width="71" height="21"/><text class="t" x="1672" y="2803.2">1、原因分析：</text></g>
<g id="P6a1"><rect class="ls" x="1756" y="2759" width="200" height="34"/><text class="t" x="1762" y="2773.2"><tspan x="1762">本身资质差，基础薄弱，理解能力差，不能将</tspan><tspan x="1762" dy="12.2">数学结合生活。</tspan></text></g>
<g id="P6a2"><rect class="ls" x="1756" y="2814" width="200" height="21"/><text class="t" x="1762" y="2828.2">有的学生很聪明但是很自负，不认真，贪玩。</text></g>
<g id="P6b"><rect class="ls" x="1666" y="2919" width="53" height="21"/><text class="t" x="1672" y="2933.2">2、措施：</text></g>
<g id="P6b1"><rect class="ls" x="1737" y="2856" width="98" height="21"/><text class="t" x="1743" y="2870.2">(1)平时多照顾他们。</text></g>
<g id="P6b2"><rect class="ls" x="1737" y="2898" width="88" height="21"/><text class="t" x="1743" y="2912.2">(2)加强基础训练。</text></g>
<g id="P6b3"><rect class="ls" x="1737" y="2940" width="145" height="21"/><text class="t" x="1743" y="2954.2">(3)加强学习习惯、行为的培养。</text></g>
<g id="P6b4"><rect class="ls" x="1737" y="2982" width="145" height="21"/><text class="t" x="1743" y="2996.2">(4)提高他们学习的信心、兴趣。</text></g>

<g id="R2"><rect class="mp" x="1302" y="3815" width="204" height="45"/><text class="tm" x="1308" y="3834"><tspan x="1308">最新苏教版五年级数学上册第十单</tspan><tspan x="1308" dy="16.5">元统计教案模板4</tspan></text></g>
<g id="Q1"><rect class="lp" x="1523" y="3095" width="59" height="21"/><text class="t" x="1529" y="3109.2">教学目标：</text></g>
<g id="Q1a"><rect class="lp" x="1599" y="3025" width="200" height="46"/><text class="t" x="1605" y="3039.2"><tspan x="1605">(一)掌握整数、小数四则混合运算的运算顺序</tspan><tspan x="1605" dy="12.2">，会使用中括号，能够比较熟练地计算整数、</tspan><tspan x="1605" dy="12.2">小数四则混合运算式题。</tspan></text></g>
<g id="Q1b"><rect class="lp" x="1599" y="3091" width="200" height="34"/><text class="t" x="1605" y="3105.2"><tspan x="1605">(二)通过对整数、小数四则混合运算的运算顺</tspan><tspan x="1605" dy="12.2">序的总结、归纳，提高学生的抽象概括能力。</tspan></text></g>
<g id="Q1c"><rect class="lp" x="1599" y="3145" width="200" height="34"/><text class="t" x="1605" y="3159.2"><tspan x="1605">(三)培养学生养成良好的学习习惯，提高学生</tspan><tspan x="1605" dy="12.2">的计算能力。</tspan></text></g>
<g id="Q2"><rect class="lp" x="1523" y="3200" width="59" height="21"/><text class="t" x="1529" y="3214.2">教学重点：</text></g>
<g id="Q2a"><rect class="lp" x="1599" y="3200" width="190" height="21"/><text class="t" x="1605" y="3214.2">掌握整数、小数四则混合运算的运算顺序。</text></g>
<g id="Q3"><rect class="lp" x="1523" y="3242" width="59" height="21"/><text class="t" x="1529" y="3256.2">教学难点：</text></g>
<g id="Q3a"><rect class="lp" x="1599" y="3242" width="199" height="21"/><text class="t" x="1605" y="3256.2">提高学生计算正确率以及约等号的正确使用。</text></g>
<g id="Q4"><rect class="lp" x="1523" y="4560" width="59" height="21"/><text class="t" x="1529" y="4574.2">教学过程：</text></g>
<g id="S1"><rect class="lp" x="1599" y="3396" width="67" height="21"/><text class="t" x="1605" y="3410.2">一、复习准备</text></g>
<g id="S1a"><rect class="lp" x="1683" y="3285" width="39" height="21"/><text class="t" x="1689" y="3299.2">1.口算</text></g>
<g id="S1a1"><rect class="lp" x="1737" y="3285" width="141" height="21"/><text class="t" x="1743" y="3299.2">12+0.12=7.2-0.2= 3.5÷0.35=</text></g>
<g id="S1b"><rect class="lp" x="1683" y="3327" width="144" height="21"/><text class="t" x="1689" y="3341.2">2.95+0.05= 5-0.6= 2.8÷0.14=</text></g>
<g id="S1b1"><rect class="lp" x="1845" y="3327" width="157" height="21"/><text class="t" x="1851" y="3341.2">8÷12.5= 1.2+2.8-3.99= 4×1.72=</text></g>
<g id="S1c"><rect class="lp" x="1683" y="3369" width="160" height="21"/><text class="t" x="1689" y="3383.2">3.74+6.26= 4.5×6= 0.25×4÷0.2=</text></g>
<g id="S1c1"><rect class="lp" x="1861" y="3369" width="122" height="21"/><text class="t" x="1867" y="3383.2">2÷4=20×0.2=20.75-9.5=</text></g>
<g id="S1d"><rect class="lp" x="1683" y="3411" width="75" height="21"/><text class="t" x="1689" y="3425.2">3.5×8×0.125=</text></g>
<g id="S1e"><rect class="lp" x="1683" y="3508" width="39" height="21"/><text class="t" x="1689" y="3522.2">2.提问</text></g>
<g id="S1e1"><rect class="lp" x="1737" y="3454" width="113" height="21"/><text class="t" x="1743" y="3468.2">(1)我们学过哪几种运算?</text></g>
<g id="S1e2"><rect class="lp" x="1737" y="3498" width="199" height="46"/><text class="t" x="1743" y="3512.2"><tspan x="1743">(2)我们把加法、减法、乘法、除法统称为什</tspan><tspan x="1743" dy="12.2">么运算?(加法、减法、乘法、除法统称为四则</tspan><tspan x="1743" dy="12.2">运算。)</tspan></text></g>
<g id="S1e3"><rect class="lp" x="1737" y="3563" width="158" height="21"/><text class="t" x="1743" y="3577.2">(3)整数四则混合运算的顺序是什么?</text></g>
<g id="S2"><rect class="lp" x="1599" y="4500" width="67" height="21"/><text class="t" x="1605" y="4514.2">二、学习新课</text></g>
<g id="T1"><rect class="lp" x="1683" y="3635" width="171" height="21"/><text class="t" x="1689" y="3649.2">1.学习例1：3.7-2.5+4.6=3.6×6÷0.9=</text></g>
<g id="T1a"><rect class="lp" x="1874" y="3604" width="200" height="34"/><text class="t" x="1880" y="3618.2"><tspan x="1880">(1)思考：以上两题中分别含有什么运算?运算</tspan><tspan x="1880" dy="12.2">顺序怎样?</tspan></text></g>
<g id="T1b"><rect class="lp" x="1874" y="3659" width="97" height="21"/><text class="t" x="1880" y="3673.2">(2)学生试算后订正。</text></g>
<g id="T2"><rect class="lp" x="1683" y="3722" width="61" height="21"/><text class="t" x="1689" y="3736.2">3.7-2.5+4.6</text></g>
<g id="T2a"><rect class="lp" x="1762" y="3701" width="51" height="21"/><text class="t" x="1768" y="3715.2">=1.2+4.6</text></g>
<g id="T2b"><rect class="lp" x="1762" y="3743" width="32" height="21"/><text class="t" x="1768" y="3757.2">=5.8</text></g>
<g id="T3"><rect class="lp" x="1683" y="3866" width="57" height="21"/><text class="t" x="1689" y="3880.2">3.6×6÷0.9</text></g>
<g id="T3a"><rect class="lp" x="1756" y="3785" width="57" height="21"/><text class="t" x="1762" y="3799.2">=21.6÷0.9</text></g>
<g id="T3b"><rect class="lp" x="1756" y="3828" width="28" height="21"/><text class="t" x="1762" y="3842.2">=24</text></g>
<g id="T3c"><rect class="lp" x="1756" y="3946" width="79" height="21"/><text class="t" x="1762" y="3960.2">(3)小结运算顺序</text></g>
<g id="T3c1"><rect class="lp" x="1854" y="3870" width="200" height="34"/><text class="t" x="1860" y="3884.2"><tspan x="1860">①教师讲解：加法和减法叫做第一级运算，乘</tspan><tspan x="1860" dy="12.2">法、除法叫做第二级运算。</tspan></text></g>
<g id="T3c2"><rect class="lp" x="1854" y="3924" width="200" height="58"/><text class="t" x="1860" y="3938.2"><tspan x="1860">②以上两题中分别含有几级运算?运算顺序怎</tspan><tspan x="1860" dy="12.2">样?(①题中只含有第一级运算，按从左往右依</tspan><tspan x="1860" dy="12.2">次计算;②题中只含有第二级运算，也按从左</tspan><tspan x="1860" dy="12.2">往右依次计算。)</tspan></text></g>
<g id="T3c3"><rect class="lp" x="1854" y="4003" width="200" height="46"/><text class="t" x="1860" y="4017.2"><tspan x="1860">③谁能用简明的语言概括以上两题的运算顺序</tspan><tspan x="1860" dy="12.2">?(一个算式里，如果只含有同一级运算，要从</tspan><tspan x="1860" dy="12.2">左往右依次计算。)</tspan></text></g>
<g id="T4"><rect class="lp" x="1683" y="4203" width="199" height="21"/><text class="t" x="1689" y="4217.2">2.学习例2：35.6-5×1.73= 6.75+2.52÷1.2=</text></g>
<g id="T4a"><rect class="lp" x="1900" y="4070" width="200" height="34"/><text class="t" x="1906" y="4084.2"><tspan x="1906">(1)观察以上两题中含有几级运算?应先做哪步</tspan><tspan x="1906" dy="12.2">运算，后做哪步运算?</tspan></text></g>
<g id="T4b"><rect class="lp" x="1900" y="4125" width="97" height="21"/><text class="t" x="1906" y="4139.2">(2)学生计算后订正。</text></g>
<g id="T4c"><rect class="lp" x="1900" y="4201" width="50" height="21"/><text class="t" x="1906" y="4215.2">(3)小结。</text></g>
<g id="T4c1"><rect class="lp" x="1967" y="4167" width="200" height="34"/><text class="t" x="1973" y="4181.2"><tspan x="1973">以上两题都是含有两级运算的算式，应先做哪</tspan><tspan x="1973" dy="12.2">级运算，后做哪级运算?</tspan></text></g>
<g id="T4c2"><rect class="lp" x="1967" y="4222" width="200" height="34"/><text class="t" x="1973" y="4236.2"><tspan x="1973">讨论得出：一个算式里，如果含有两级运算，</tspan><tspan x="1973" dy="12.2">要先做第二级运算，后做第一级运算。</tspan></text></g>
<g id="T4d"><rect class="lp" x="1900" y="4328" width="180" height="21"/><text class="t" x="1906" y="4342.2">(4)练习：先说出运算顺序，再算出得数。</text></g>
<g id="T4d1"><rect class="lp" x="2101" y="4282" width="160" height="21"/><text class="t" x="2107" y="4296.2">①P37“做一做”;②3.6÷1.2+0.5×5。</text></g>
<g id="T4d1a"><rect class="lp" x="2280" y="4276" width="200" height="34"/><text class="t" x="2286" y="4290.2"><tspan x="2286">思考：①上题如果要先算1.2+0.5应怎么办?(</tspan><tspan x="2286" dy="12.2">加小括号。)</tspan></text></g>
<g id="T4d2"><rect class="lp" x="2101" y="4366" width="200" height="34"/><text class="t" x="2107" y="4380.2"><tspan x="2107">②如果要先算(1.2+0.5)×5应怎么办?(加中括</tspan><tspan x="2107" dy="12.2">号。)</tspan></text></g>
<g id="T5"><rect class="lp" x="1683" y="4485" width="200" height="34"/><text class="t" x="1689" y="4499.2"><tspan x="1689">3.试做例3：3.6÷(1.2+0.5)×5= 3.69÷[(1.2+</tspan><tspan x="1689" dy="12.2">0.5)×5]=</tspan></text></g>
<g id="T5a"><rect class="lp" x="1900" y="4452" width="200" height="46"/><text class="t" x="1906" y="4466.2"><tspan x="1906">(1)两题运算顺序是怎样的?(一个算式里，如</tspan><tspan x="1906" dy="12.2">果有括号，要先算小括号里面的，再算中括号</tspan><tspan x="1906" dy="12.2">里面的。)</tspan></text></g>
<g id="T5b"><rect class="lp" x="1900" y="4519" width="61" height="21"/><text class="t" x="1906" y="4533.2">(2)学生试做</text></g>
<g id="T6"><rect class="lp" x="1683" y="4561" width="84" height="21"/><text class="t" x="1689" y="4575.2">3.6÷(1.2+0.5)×5</text></g>
<g id="T6a"><rect class="lp" x="1786" y="4561" width="61" height="21"/><text class="t" x="1792" y="4575.2">=3.6÷1.7×5</text></g>
<g id="T7"><rect class="lp" x="1683" y="4739" width="91" height="21"/><text class="t" x="1689" y="4753.2">3.6÷[(1.2+0.5)×5]</text></g>
<g id="T7a"><rect class="lp" x="1790" y="4603" width="70" height="21"/><text class="t" x="1796" y="4617.2">=3.6÷[1.7×5]</text></g>
<g id="T7b"><rect class="lp" x="1790" y="4645" width="51" height="21"/><text class="t" x="1796" y="4659.2">=3.6÷8.5</text></g>
<g id="T7c"><rect class="lp" x="1790" y="4687" width="201" height="34"/><text class="t" x="1796" y="4701.2"><tspan x="1796">计算中出现3.6÷1.7和3.6÷8.5除不尽时，教</tspan><tspan x="1796" dy="12.2">师讲解</tspan></text></g>
<g id="T7d"><rect class="lp" x="1790" y="4741" width="201" height="46"/><text class="t" x="1796" y="4755.2"><tspan x="1796">在四则混合运算过程中，遇到除法的商的小数</tspan><tspan x="1796" dy="12.2">位数较多或出现循环小数时，一般保留两位小</tspan><tspan x="1796" dy="12.2">数，再进行计算。</tspan></text></g>
<g id="T7e"><rect class="lp" x="1790" y="4808" width="201" height="46"/><text class="t" x="1796" y="4822.2"><tspan x="1796">要想保留两位小数，只需除到第几位?(一般只</tspan><tspan x="1796" dy="12.2">需除到第三位小数，用“四舍五入法”保留两位</tspan><tspan x="1796" dy="12.2">小数。)</tspan></text></g>
<g id="T7f"><rect class="lp" x="1790" y="4875" width="105" height="21"/><text class="t" x="1796" y="4889.2">学生继续计算后，订正</text></g>
<g id="T8"><rect class="lp" x="1683" y="4960" width="84" height="21"/><text class="t" x="1689" y="4974.2">3.6÷(1.2+0.5)×5</text></g>
<g id="T8a"><rect class="lp" x="1784" y="4917" width="63" height="21"/><text class="t" x="1790" y="4931.2">=3.6÷1.7×5</text></g>
<g id="T8b"><rect class="lp" x="1784" y="4960" width="49" height="21"/><text class="t" x="1790" y="4974.2">≈2.12×5</text></g>
<g id="T8c"><rect class="lp" x="1784" y="5002" width="36" height="21"/><text class="t" x="1790" y="5016.2">=10.6</text></g>
<g id="T9"><rect class="lp" x="1683" y="5123" width="91" height="21"/><text class="t" x="1689" y="5137.2">3.6÷[(1.2+0.5)×5]</text></g>
<g id="T9a"><rect class="lp" x="1790" y="5044" width="70" height="21"/><text class="t" x="1796" y="5058.2">=3.6÷[1.7×5]</text></g>
<g id="T9b"><rect class="lp" x="1790" y="5086" width="51" height="21"/><text class="t" x="1796" y="5100.2">=3.6÷8.5</text></g>
<g id="T9c"><rect class="lp" x="1790" y="5129" width="37" height="21"/><text class="t" x="1796" y="5143.2">≈0.42</text></g>
<g id="T9d"><rect class="lp" x="1790" y="5171" width="201" height="82"/><text class="t" x="1796" y="5185.2"><tspan x="1796">提问：为什么①题中第二步要用约等于号“≈”</tspan><tspan x="1796" dy="12.2">，而第三步却要用等号“=”。(因为在第二步计</tspan><tspan x="1796" dy="12.2">算时，3.6÷1.7除不尽，在第二步计算时，要</tspan><tspan x="1796" dy="12.2">取它的商的近似值2.12，所以在第二步要用“</tspan><tspan x="1796" dy="12.2">≈”连接;而第三步用2.12乘以5，得到的积10.</tspan><tspan x="1796" dy="12.2">6是准确的结果，应该用等号连接。)</tspan></text></g>
<g id="T10"><rect class="lp" x="1683" y="5366" width="39" height="21"/><text class="t" x="1689" y="5380.2">4.小结</text></g>
<g id="T10a"><rect class="lp" x="1737" y="5274" width="200" height="70"/><text class="t" x="1743" y="5288.2"><tspan x="1743">(1)什么情况用等于号?什么时候用约等于号?(</tspan><tspan x="1743" dy="12.2">当除不尽或者商的小数位数较多时，用“四舍</tspan><tspan x="1743" dy="12.2">五入法”保留两位小数，在保留两位小数取近</tspan><tspan x="1743" dy="12.2">似值的这一步，要写约等于号;当取准确值时</tspan><tspan x="1743" dy="12.2">，用等号。)</tspan></text></g>
<g id="T10b"><rect class="lp" x="1737" y="5365" width="200" height="34"/><text class="t" x="1743" y="5379.2"><tspan x="1743">(2)要改变算式的运算顺序，可以怎么办?(可</tspan><tspan x="1743" dy="12.2">以使用小括号、中括号。)</tspan></text></g>
<g id="T10c"><rect class="lp" x="1737" y="5419" width="200" height="46"/><text class="t" x="1743" y="5433.2"><tspan x="1743">(3)有括号的算式，运算顺序怎样?(一个算式</tspan><tspan x="1743" dy="12.2">里，如果有括号，要先算小括号里面的，再算</tspan><tspan x="1743" dy="12.2">中括号里面的。)</tspan></text></g>
<g id="S3"><rect class="lp" x="1599" y="5726" width="67" height="21"/><text class="t" x="1605" y="5740.2">三、巩固反馈</text></g>
<g id="U1"><rect class="lp" x="1683" y="5488" width="82" height="21"/><text class="t" x="1689" y="5502.2">1.P38：做一做。</text></g>
<g id="U2"><rect class="lp" x="1683" y="5575" width="111" height="21"/><text class="t" x="1689" y="5589.2">2.P40：1①②，2①②。</text></g>
<g id="U2a"><rect class="lp" x="1813" y="5530" width="79" height="21"/><text class="t" x="1819" y="5544.2">(1)说出运算顺序;</text></g>
<g id="U2b"><rect class="lp" x="1813" y="5572" width="81" height="21"/><text class="t" x="1819" y="5586.2">(2)计算并自验算;</text></g>
<g id="U2c"><rect class="lp" x="1813" y="5620" width="117" height="21"/><text class="t" x="1819" y="5634.2">(3)订正并小结验算方法。</text></g>
<g id="U2c1"><rect class="lp" x="1948" y="5613" width="200" height="34"/><text class="t" x="1954" y="5627.2"><tspan x="1954">验算方法：①原式验算;②互逆验算;③交换验</tspan><tspan x="1954" dy="12.2">算。</tspan></text></g>
<g id="U3"><rect class="lp" x="1683" y="5768" width="200" height="34"/><text class="t" x="1689" y="5782.2"><tspan x="1689">3.判断下面各题，哪些是对的，哪些是错的，</tspan><tspan x="1689" dy="12.2">并说明原因。</tspan></text></g>
<g id="U3a"><rect class="lp" x="1901" y="5668" width="97" height="21"/><text class="t" x="1907" y="5682.2">(1)0.8÷0.8×0.7=0( );</text></g>
<g id="U3b"><rect class="lp" x="1901" y="5710" width="92" height="21"/><text class="t" x="1907" y="5724.2">(2)1.6+1.4×2=6( );</text></g>
<g id="U3c"><rect class="lp" x="1901" y="5752" width="100" height="21"/><text class="t" x="1907" y="5766.2">(3)50-3.9+6.1=40( );</text></g>
<g id="U3d"><rect class="lp" x="1901" y="5794" width="95" height="21"/><text class="t" x="1907" y="5808.2">(4)20÷2.5×4=32( );</text></g>
<g id="U3e"><rect class="lp" x="1901" y="5837" width="118" height="21"/><text class="t" x="1907" y="5851.2">(5)9.6+0.4-9.6+0.4=0( );</text></g>
<g id="U3f"><rect class="lp" x="1901" y="5879" width="112" height="21"/><text class="t" x="1907" y="5893.2">(6)4.8×2÷4.8×2=1( )。</text></g>
<g id="U4"><rect class="lp" x="1683" y="5921" width="192" height="21"/><text class="t" x="1689" y="5935.2">4.P40：4，先计算填空，再列出综合算式。</text></g>
<g id="U5"><rect class="lp" x="1683" y="5963" width="176" height="21"/><text class="t" x="1689" y="5977.2">5.课后作业：P40：1③④，2③④，3。</text></g>

<g id="R3"><rect class="mt" x="1302" y="6199" width="204" height="45"/><text class="tm" x="1308" y="6218"><tspan x="1308">苏教版五年级数学上册第十单元统</tspan><tspan x="1308" dy="16.5">计教案模板相关文章：</tspan></text></g>
<g id="V1"><rect class="lt" x="1523" y="6007" width="196" height="21"/><text class="t" x="1529" y="6021.2">★ 2021最新苏教版五年级数学上册教案文案</text></g>
<g id="V2"><rect class="lt" x="1523" y="6047" width="201" height="34"/><text class="t" x="1529" y="6061.2"><tspan x="1529">★ 2021最新苏教版五年级数学上册总复习教</tspan><tspan x="1529" dy="12.2">案</tspan></text></g>
<g id="V3"><rect class="lt" x="1523" y="6103" width="167" height="21"/><text class="t" x="1529" y="6117.2">★ 2021最新五年级数学上册教案模板</text></g>
<g id="V4"><rect class="lt" x="1523" y="6145" width="196" height="21"/><text class="t" x="1529" y="6159.2">★ 苏教版小学五年级数学上册教案2021最新</text></g>
<g id="V5"><rect class="lt" x="1523" y="6187" width="174" height="21"/><text class="t" x="1529" y="6201.2">★ 最新五年级数学上册五年级教案文案</text></g>
<g id="V6"><rect class="lt" x="1523" y="6229" width="186" height="21"/><text class="t" x="1529" y="6243.2">★ 苏教版小学数学五年级册教案2021文案</text></g>
<g id="V7"><rect class="lt" x="1523" y="6272" width="193" height="21"/><text class="t" x="1529" y="6286.2">★ 最新人教版小学五年级数学上册教案模板</text></g>
<g id="V8"><rect class="lt" x="1523" y="6313" width="201" height="34"/><text class="t" x="1529" y="6327.2"><tspan x="1529">★ 最新苏教版五年级上册数学第五单元教案</tspan><tspan x="1529" dy="12.2">例文</tspan></text></g>
<g id="V9"><rect class="lt" x="1523" y="6368" width="145" height="21"/><text class="t" x="1529" y="6382.2">★ 五年级教案数学上册最新范文</text></g>
<g id="V10"><rect class="lt" x="1523" y="6410" width="201" height="34"/><text class="t" x="1529" y="6424.2"><tspan x="1529">★ 2021最新苏教版五年级数学上册第五单元</tspan><tspan x="1529" dy="12.2">全部教案范文</tspan></text></g>
</g>
</svg>
